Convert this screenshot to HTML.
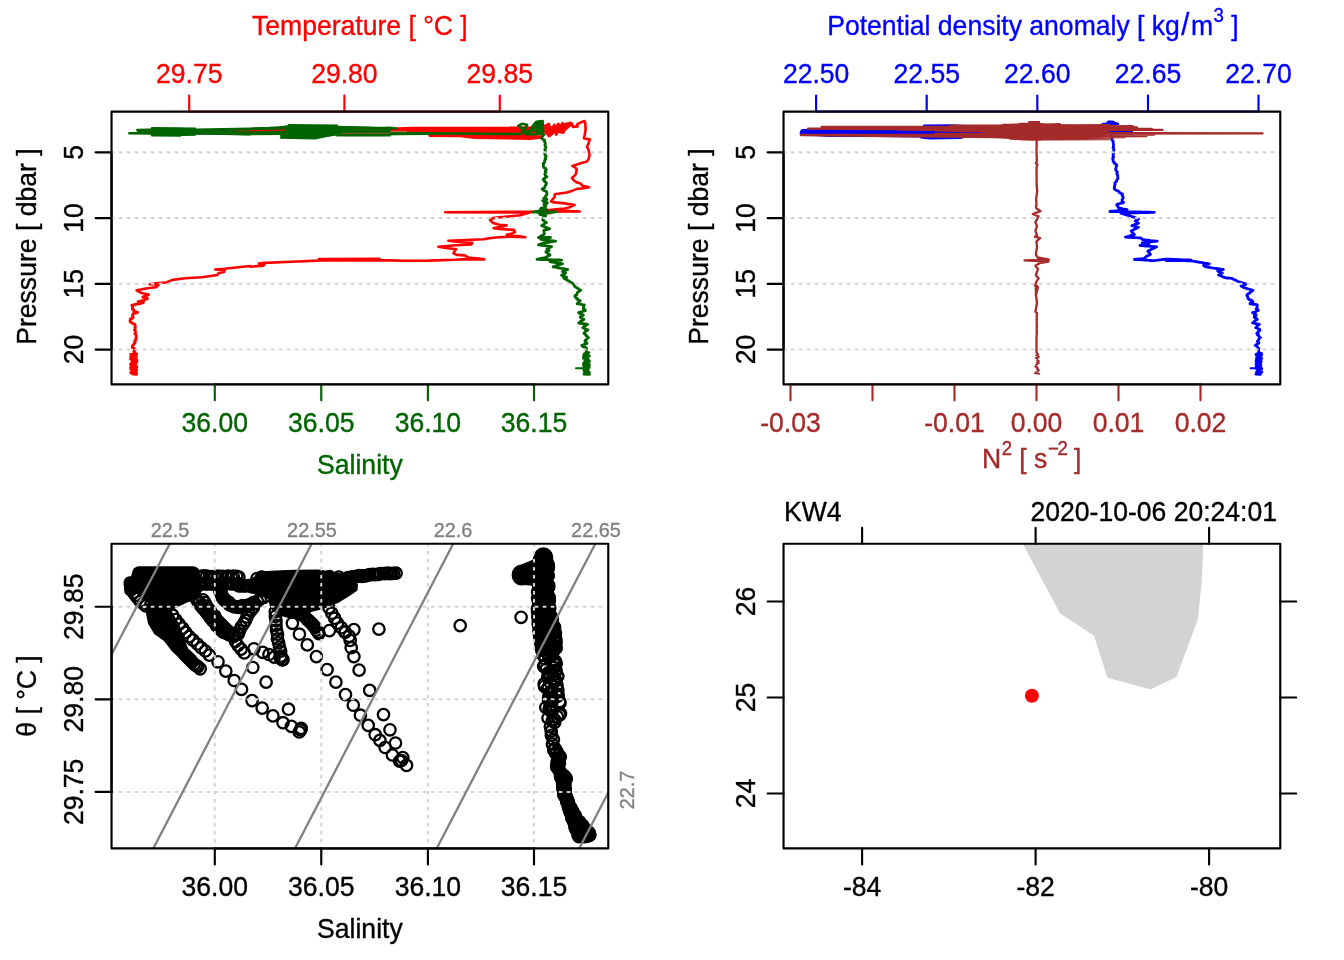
<!DOCTYPE html>
<html><head><meta charset="utf-8"><title>CTD profile</title>
<style>
html,body{margin:0;padding:0;background:#fff;}
body{width:1344px;height:960px;overflow:hidden;}
svg{display:block;font-family:"Liberation Sans",sans-serif;}
</style></head><body>
<svg width="1344" height="960" viewBox="0 0 1344 960">
<rect width="1344" height="960" fill="#fff"/>
<g id="p1">
<line x1="111.55" y1="152.30" x2="111.55" y2="349.55" stroke="#000" stroke-width="2.15" stroke-linecap="round"/>
<line x1="111.55" y1="152.30" x2="95.61" y2="152.30" stroke="#000" stroke-width="2.15" stroke-linecap="round"/>
<text transform="translate(82.87 152.30) rotate(-90) scale(1 1.05)" fill="#000" stroke="#000" stroke-width="0.35" font-size="26.56" text-anchor="middle">5</text>
<line x1="111.55" y1="218.05" x2="95.61" y2="218.05" stroke="#000" stroke-width="2.15" stroke-linecap="round"/>
<text transform="translate(82.87 218.05) rotate(-90) scale(1 1.05)" fill="#000" stroke="#000" stroke-width="0.35" font-size="26.56" text-anchor="middle">10</text>
<line x1="111.55" y1="283.80" x2="95.61" y2="283.80" stroke="#000" stroke-width="2.15" stroke-linecap="round"/>
<text transform="translate(82.87 283.80) rotate(-90) scale(1 1.05)" fill="#000" stroke="#000" stroke-width="0.35" font-size="26.56" text-anchor="middle">15</text>
<line x1="111.55" y1="349.55" x2="95.61" y2="349.55" stroke="#000" stroke-width="2.15" stroke-linecap="round"/>
<text transform="translate(82.87 349.55) rotate(-90) scale(1 1.05)" fill="#000" stroke="#000" stroke-width="0.35" font-size="26.56" text-anchor="middle">20</text>
<line x1="189.20" y1="111.55" x2="499.80" y2="111.55" stroke="#FF0000" stroke-width="1.9" stroke-linecap="round"/>
<line x1="189.20" y1="111.55" x2="189.20" y2="95.61" stroke="#FF0000" stroke-width="2.15" stroke-linecap="round"/>
<text transform="translate(189.20 82.87) scale(1 1.05)" fill="#FF0000" stroke="#FF0000" stroke-width="0.35" font-size="26.56" text-anchor="middle">29.75</text>
<line x1="344.40" y1="111.55" x2="344.40" y2="95.61" stroke="#FF0000" stroke-width="2.15" stroke-linecap="round"/>
<text transform="translate(344.40 82.87) scale(1 1.05)" fill="#FF0000" stroke="#FF0000" stroke-width="0.35" font-size="26.56" text-anchor="middle">29.80</text>
<line x1="499.80" y1="111.55" x2="499.80" y2="95.61" stroke="#FF0000" stroke-width="2.15" stroke-linecap="round"/>
<text transform="translate(499.80 82.87) scale(1 1.05)" fill="#FF0000" stroke="#FF0000" stroke-width="0.35" font-size="26.56" text-anchor="middle">29.85</text>
<line x1="214.80" y1="384.38" x2="534.00" y2="384.38" stroke="#006400" stroke-width="1.9" stroke-linecap="round"/>
<line x1="214.80" y1="384.38" x2="214.80" y2="400.32" stroke="#006400" stroke-width="2.15" stroke-linecap="round"/>
<text transform="translate(214.80 432.19) scale(1 1.05)" fill="#006400" stroke="#006400" stroke-width="0.35" font-size="26.56" text-anchor="middle">36.00</text>
<line x1="321.25" y1="384.38" x2="321.25" y2="400.32" stroke="#006400" stroke-width="2.15" stroke-linecap="round"/>
<text transform="translate(321.25 432.19) scale(1 1.05)" fill="#006400" stroke="#006400" stroke-width="0.35" font-size="26.56" text-anchor="middle">36.05</text>
<line x1="427.90" y1="384.38" x2="427.90" y2="400.32" stroke="#006400" stroke-width="2.15" stroke-linecap="round"/>
<text transform="translate(427.90 432.19) scale(1 1.05)" fill="#006400" stroke="#006400" stroke-width="0.35" font-size="26.56" text-anchor="middle">36.10</text>
<line x1="534.00" y1="384.38" x2="534.00" y2="400.32" stroke="#006400" stroke-width="2.15" stroke-linecap="round"/>
<text transform="translate(534.00 432.19) scale(1 1.05)" fill="#006400" stroke="#006400" stroke-width="0.35" font-size="26.56" text-anchor="middle">36.15</text>
<polyline points="235.0,131.0 300.0,130.5 340.0,130.0 412.0,129.5 235.0,131.5 390.0,133.4 520.0,133.5 300.0,132.0 412.0,128.0 560.0,127.6 412.0,129.0 552.0,129.2 410.0,130.2 556.0,130.6 408.0,131.4 552.0,131.8 410.0,132.6 548.0,133.0 430.0,134.0 545.0,134.2 429.6,135.6 460.0,136.0 475.0,137.6 530.0,138.6 541.0,137.4 500.0,136.4 470.0,135.6 493.0,135.4 510.0,135.2 540.0,136.2" fill="none" stroke="#FF0000" stroke-width="2.6" stroke-linejoin="round" stroke-linecap="round"/>
<polyline points="544.8,125.8 549.0,123.8 550.0,134.2 554.2,124.8 552.1,133.1 558.3,123.8 556.2,134.7 562.5,123.2 561.5,132.6 566.7,124.3 562.5,129.0 570.8,122.7 558.3,125.8 571.9,123.8 564.6,127.4 563.5,132.6 556.2,131.0 549.0,136.2 545.8,131.0 554.2,129.5 564.6,130.0 571.9,123.8" fill="none" stroke="#FF0000" stroke-width="2.6" stroke-linejoin="round" stroke-linecap="round"/>
<polyline points="148.5,294.9 147.2,295.2 146.7,295.6 145.5,295.9 144.9,296.3 143.9,296.6 142.8,297.0 143.4,297.4 144.5,297.8 146.8,298.2 147.5,298.5 146.1,299.1 145.0,299.6 144.4,300.1 144.0,300.4 142.3,300.6 141.7,300.9 140.2,301.1 139.4,301.4 138.1,301.7 138.7,301.9 140.4,302.1 141.8,302.3 142.3,302.5 143.3,302.7 142.6,302.9 141.5,303.2 139.6,303.4 139.5,303.7 138.3,303.9 136.8,304.1 135.4,304.4 135.5,304.6 133.9,304.8 133.2,305.1 131.9,305.3 132.6,306.5 132.5,307.7 132.4,309.0 133.7,309.8 133.6,310.7 134.5,311.6 135.9,311.8 136.5,312.0 137.6,312.3 137.2,312.6 136.1,313.0 133.9,313.3 133.4,313.6 132.7,314.8 132.5,316.0 133.3,317.2 132.4,318.3 131.3,318.6 130.3,318.9 130.5,319.9 130.0,320.9 130.3,322.0 131.3,322.5 132.0,323.0 132.9,323.5 134.2,324.1 135.0,324.6 135.0,325.6 135.4,326.7 134.9,327.7 135.2,328.8 134.5,329.8 135.2,330.8 135.6,331.9 135.4,332.9 134.9,334.0 136.1,335.0 136.5,336.0 136.0,337.1 136.3,338.1 135.6,339.2 135.6,340.2 134.6,341.2 135.2,342.3 134.5,343.3 133.9,344.4 132.8,345.4 132.4,346.5 132.5,347.5 134.3,348.5 134.5,349.6 135.1,350.6 133.7,351.7 134.2,352.7" fill="none" stroke="#FF0000" stroke-width="2.9" stroke-linejoin="round" stroke-linecap="round"/>
<polyline points="571.9,123.8 572.9,126.9 577.6,126.4 577.1,124.3 581.2,122.2 584.4,121.1 585.2,122.7 585.6,129.0 584.9,134.2 583.9,138.3 586.5,138.9 589.8,139.4 588.5,143.5 587.0,146.7 588.5,149.8 589.6,155.0 588.5,159.2 586.5,161.8 582.3,162.8 577.1,164.4 572.4,165.9 575.2,167.5 576.7,169.6 576.0,173.8 574.5,175.8 571.9,177.9 574.0,180.5 577.1,182.6 580.7,183.6 582.3,185.7 589.1,187.3 583.3,188.3 577.1,188.9 571.9,190.9 566.7,192.5 554.7,194.3 554.7,196.7 551.0,201.4 554.2,202.4 564.6,203.4 574.5,205.0 574.5,204.9 568.8,207.5 564.6,208.5 556.2,209.4 549.0,210.1 579.7,211.5 531.2,211.7 530.0,211.7 445.2,212.3 530.0,212.5 525.4,213.8 520.2,215.3 504.6,216.9 498.3,217.4 493.1,218.1 490.0,220.0 491.6,221.6 493.1,223.1 499.4,224.7 506.7,225.4 500.4,226.8 493.6,228.3 499.4,228.9 514.0,229.9 515.0,232.0 511.9,233.5 506.7,234.8 518.1,236.1 525.4,237.3 509.8,236.7 498.3,237.2 489.0,238.2 483.8,239.3 448.3,240.8 458.8,241.9 472.3,242.7 471.2,244.5 452.5,245.5 438.4,246.8 447.3,248.1 456.1,249.2 454.1,251.8 453.5,253.3 456.7,254.9 465.0,255.4 468.1,257.5 484.3,259.4 465.0,259.1 454.6,259.8 428.5,260.6 403.5,260.8 390.0,260.4 390.0,260.4 380.2,260.3 379.7,258.8 318.8,259.0 351.0,259.2 358.3,260.4 380.2,260.2 318.8,260.4 317.7,260.6 291.7,261.7 264.6,262.9 258.9,263.5 264.6,264.6 263.5,265.6 250.0,266.7 250.0,266.0 224.6,268.8 215.2,269.5 224.6,270.5 224.1,272.1 218.3,273.3 217.3,275.0 201.7,277.3 185.0,278.3 172.5,279.9 166.2,282.5 155.8,283.3 149.6,284.3 159.0,284.8 155.8,287.2 147.5,288.2 136.6,290.3 141.2,292.9 148.5,294.5" fill="none" stroke="#FF0000" stroke-width="2.6" stroke-linejoin="round" stroke-linecap="round"/>
<polyline points="134.6,353.0 135.4,353.2 135.8,353.5 136.8,353.7 135.4,354.0 136.7,354.2 130.6,354.4 133.6,354.7 136.8,354.9 134.8,355.2 136.5,355.4 131.2,355.6 133.6,355.9 132.1,356.1 134.1,356.4 134.3,356.6 130.5,356.8 131.9,357.1 132.3,357.3 136.6,357.6 135.6,357.8 131.5,358.0 135.8,358.3 131.3,358.5 134.6,358.8 131.3,359.0 130.4,359.3 136.3,359.5 131.8,359.7 131.9,360.0 137.1,360.2 136.3,360.5 132.4,360.7 136.9,360.9 134.1,361.2 135.0,361.4 131.8,361.7 136.8,361.9 135.1,362.1 137.0,362.4 136.5,362.6 132.4,362.9 132.9,363.1 131.5,363.3 131.4,363.6 130.8,363.8 132.4,364.1 134.5,364.3 130.4,364.5 135.0,364.8 132.7,365.0 132.5,365.3 136.0,365.5 133.7,365.7 132.5,366.0 133.7,366.2 135.2,366.5 130.8,366.7 137.0,366.9 130.6,367.2 135.5,367.4 136.1,367.7 130.5,367.9 135.8,368.1 132.9,368.4 134.3,368.6 130.5,368.9 130.7,369.1 131.6,369.4 136.9,369.6 131.7,369.8 135.5,370.1 136.7,370.3 136.8,370.6 132.7,370.8 132.8,371.0 134.0,371.3 135.7,371.5 131.1,371.8 135.5,372.0 135.8,372.2 136.2,372.5 130.6,372.7 136.8,373.0 131.0,373.2 132.7,373.4 134.6,373.7 136.6,373.9 132.7,374.2 136.7,374.4" fill="none" stroke="#FF0000" stroke-width="2.6" stroke-linejoin="round" stroke-linecap="round"/>
<ellipse cx="133.8" cy="364" rx="2.9" ry="10" fill="#FF0000"/>
<polyline points="129.3,133.3 152.0,133.0 137.3,130.0 160.0,129.4 195.0,128.6 152.0,128.2 180.0,135.6 152.0,135.2 195.0,134.6 152.0,131.6 196.0,131.0 235.0,131.0 196.0,133.2 250.0,134.2 196.0,129.6 250.0,128.6 280.0,128.0 337.0,126.6 289.0,125.2 337.0,125.8 281.0,137.6 315.0,138.4 337.0,133.6 282.0,135.4 337.0,131.0 281.0,128.6 337.0,128.2 283.0,131.4 281.0,133.4 250.0,130.5 337.0,130.0 390.0,127.6 396.0,128.4 337.0,127.2 390.0,130.0 337.0,132.4 342.0,134.8 400.0,134.0 450.0,133.6 520.0,134.0 400.0,133.0 360.0,132.6 390.0,135.4 337.0,135.2" fill="none" stroke="#006400" stroke-width="2.4" stroke-linejoin="round" stroke-linecap="round"/>
<path d="M151.7,128.6 L160,128 L176,127.7 L195,128.3 L196,135 L181,136 L160,135.6 L152,134.6 Z" fill="#006400"/>
<path d="M196,129.4 L250,127.9 L280,126.2 L289,124.9 L337,125.8 L390,127.2 L390,135.2 L337,135.6 L316,138.2 L300,138.8 L281,137.6 L280,135 L250,135.2 L196,134.6 Z" fill="#006400"/>
<path d="M137.3,129.6 L152,129 L152,134.6 L129.3,133.9 L129.3,132.7 L137.3,132.4 Z" fill="#006400"/>
<polyline points="235.0,131.0 270.0,131.0 285.0,130.0" fill="none" stroke="#8B3A10" stroke-width="1" stroke-linejoin="round" stroke-linecap="round"/>
<polyline points="250.0,130.6 285.0,130.0" fill="none" stroke="#FF0000" stroke-width="0.8" stroke-linejoin="round" stroke-linecap="round"/>
<polyline points="342.0,133.4 390.0,133.2" fill="none" stroke="#8B5A20" stroke-width="1" stroke-linejoin="round" stroke-linecap="round"/>
<polyline points="518.2,125.8 521.9,123.8 527.1,124.8 525.0,129.0 520.8,127.4 524.0,132.6 529.2,133.6 531.2,129.0 534.4,123.8 536.5,121.7 542.7,121.1 534.4,125.8 541.7,123.8 535.9,131.0 542.7,130.0 536.5,134.2 527.1,134.2 521.9,132.1 531.2,131.0 539.6,126.9 542.7,121.7 543.2,135.2" fill="none" stroke="#006400" stroke-width="2.6" stroke-linejoin="round" stroke-linecap="round"/>
<path d="M534.4,123.2 L537.5,120.8 L543.2,120.8 L543.8,135.2 L535.4,134.7 Z" fill="#006400"/>
<polyline points="543.2,135.2 542.2,136.8 541.7,138.3 542.1,139.0 544.0,139.7 544.8,140.4 544.3,141.7 545.3,142.9 545.2,144.2 544.9,145.4 545.8,146.7 545.7,148.0 544.8,149.3 545.3,150.6 545.3,151.9 544.7,153.1 544.8,154.3 545.5,155.5 546.2,156.7 545.1,158.0 545.8,159.2 544.7,160.2 544.7,161.2 544.6,162.3 543.2,163.3 543.5,164.7 543.4,166.1 543.8,167.5 545.8,168.5 546.4,169.6 545.1,171.0 545.9,172.4 544.8,173.8 545.1,174.8 545.6,175.8 546.9,176.9 545.0,177.7 544.1,178.6 543.2,179.5 544.5,180.4 544.3,181.3 545.7,182.2 546.4,183.1 546.1,184.5 545.1,185.9 544.8,187.3 543.6,188.1 542.2,188.9 542.5,189.5 543.6,190.2 544.8,190.8 546.4,191.5 546.9,193.0 546.9,194.6 546.1,195.6 545.2,196.7 544.8,197.7 546.0,198.5 546.9,199.3 545.4,199.8 543.8,200.3 542.7,200.8 544.4,201.4 545.4,201.9 545.8,202.4 547.4,202.9 546.2,204.0 544.8,205.0 543.8,198.1 545.1,200.2 546.9,202.3 543.8,204.4 545.8,206.5 543.5,207.5 540.6,208.5 542.5,208.9 544.9,209.2 546.9,209.6 544.5,210.0 542.6,210.3 540.9,210.7 538.4,211.1 536.5,211.4 534.4,211.8 532.3,212.2 534.4,212.2 536.6,212.1 538.5,212.1 541.0,212.1 542.7,212.0 544.9,212.0 546.9,212.0 549.2,212.0 551.4,211.9 553.8,211.9 555.7,211.9 553.6,212.2 551.5,212.5 549.5,212.8 548.0,213.1 545.4,213.4 543.7,213.7 541.5,214.0 539.6,214.3 541.8,214.8 543.7,215.3 545.8,215.8 543.8,217.4 542.7,220.0 544.6,221.3 546.4,222.6 544.0,224.2 541.7,225.7 543.7,226.5 545.8,227.3 547.6,228.1 549.5,228.9 546.4,229.6 543.8,230.4 544.3,234.1 542.1,235.2 540.7,236.4 538.5,237.5 540.9,237.5 543.1,237.5 546.0,237.5 548.2,237.5 550.5,237.5 548.7,237.9 546.8,238.2 544.5,238.6 542.5,238.9 540.6,239.3 543.0,239.5 544.7,239.8 547.3,240.1 549.0,240.3 551.5,240.6 553.7,240.9 555.7,241.1 554.0,241.4 551.9,241.7 549.7,242.0 547.6,242.3 545.5,242.6 543.8,242.9 541.2,243.9 538.5,244.8 540.7,245.1 542.6,245.4 545.3,245.7 547.2,246.0 549.5,246.3 551.6,246.6 549.1,247.9 546.9,249.2 549.0,250.7 545.8,251.8 547.8,253.3 550.0,254.9 547.6,256.2 545.8,257.5 543.5,258.0 541.3,258.4 539.1,258.9 537.0,259.4 538.9,259.4 541.3,259.5 543.3,259.6 544.9,259.6 547.1,259.7 549.0,259.7 551.4,259.8 553.6,259.9 555.2,259.9 557.5,260.0 559.3,260.0 561.5,260.1 558.9,260.4 557.0,260.7 554.5,261.0 552.1,261.4 550.0,261.7 552.0,262.0 554.0,262.4 556.2,262.7 558.3,263.1 560.4,263.4 562.5,263.8 560.2,264.5 557.7,265.3 555.2,266.1 553.1,266.9 555.0,267.2 557.1,267.6 559.4,268.0 561.4,268.4 563.7,268.7 565.6,269.1 567.7,269.5 565.2,270.5 562.5,271.6 565.6,273.1 563.8,274.2 561.5,275.2 563.8,276.2 566.7,277.3 563.5,277.8 565.1,279.0 567.1,280.1 569.1,281.2 571.1,282.4 572.9,283.5 575.0,286.7 577.1,287.9 578.7,289.1 580.7,290.3 580.2,290.2 579.4,291.0 578.4,291.8 577.3,292.6 577.1,293.3 577.0,294.5 574.9,295.8 575.0,297.0 575.9,297.7 577.4,298.4 576.9,299.1 578.6,299.8 579.5,300.5 580.2,301.1 578.4,302.0 577.9,302.9 577.1,303.8 578.6,303.9 579.4,304.1 581.1,304.3 581.4,304.4 582.7,304.6 584.4,304.8 583.4,306.2 583.7,307.6 583.3,309.0 585.1,309.7 585.4,310.5 584.4,310.9 583.6,311.2 581.8,311.6 581.3,311.9 579.1,312.3 578.6,312.6 579.5,313.3 581.3,313.9 582.5,314.6 583.3,315.2 582.2,315.9 580.6,316.6 580.2,317.3 581.1,318.0 582.2,318.7 583.9,319.4 582.5,320.1 582.3,320.8 580.2,321.6 580.3,322.3 578.6,323.0 580.4,323.2 580.1,323.4 581.8,323.5 583.1,323.7 583.4,323.9 585.2,324.0 587.0,324.2 587.5,324.4 585.9,325.0 585.8,325.7 584.1,326.4 583.9,327.0 582.8,327.7 584.5,328.1 584.4,328.5 585.2,329.0 586.3,329.4 588.0,329.8 587.3,330.5 585.6,331.2 584.9,332.0 584.7,332.7 583.9,333.4 585.5,334.3 585.6,335.1 586.5,335.9 587.8,336.8 588.5,337.6 587.0,338.5 586.8,339.4 585.3,340.3 584.9,341.2 586.1,342.3 587.0,343.3 586.7,343.8 584.2,344.2 583.9,344.6 583.0,345.0 581.8,345.4 582.1,346.0 583.3,346.7 585.4,347.3 586.3,347.9 586.5,348.5 585.9,350.1 586.5,351.7" fill="none" stroke="#006400" stroke-width="2.8" stroke-linejoin="round" stroke-linecap="round"/>
<polyline points="586.1,352.0 586.8,352.3 589.1,352.5 586.2,352.8 586.5,353.0 587.0,353.3 584.4,353.5 586.5,353.8 587.2,354.0 588.3,354.3 583.8,354.5 585.1,354.8 583.8,355.0 588.4,355.3 587.6,355.5 583.5,355.8 589.5,356.0 589.4,356.3 587.4,356.5 587.1,356.8 584.2,357.0 583.3,357.3 586.6,357.5 583.6,357.8 584.4,358.0 584.7,358.3 583.4,358.5 586.2,358.8 586.0,359.0 588.6,359.3 586.5,359.6 587.3,359.8 586.4,360.1 587.4,360.3 586.1,360.6 585.0,360.8 589.6,361.1 589.6,361.3 588.6,361.6 587.7,361.8 585.2,362.1 584.7,362.3 585.0,362.6 583.6,362.8 588.1,363.1 585.8,363.3 588.6,363.6 585.7,363.8 589.3,364.1 588.6,364.3 583.2,364.6 584.5,364.8 589.0,365.1 586.2,365.3 589.5,365.6 585.7,365.8 583.7,366.1 587.2,366.3 588.2,366.6 584.9,366.8 583.8,367.1 585.3,367.4 589.4,367.6 588.1,367.9 584.0,368.1 584.8,368.4 583.8,368.6 583.6,368.9 588.3,369.1 584.3,369.4 586.8,369.6 586.1,369.9 584.4,370.1 587.9,370.4 584.0,370.6 587.3,370.9 583.9,371.1 585.9,371.4 584.6,371.6 584.9,371.9 589.4,372.1 588.3,372.4 585.1,372.6 588.9,372.9 584.5,373.1 585.7,373.4 588.7,373.6 587.3,373.9 583.8,374.1 589.5,374.4" fill="none" stroke="#006400" stroke-width="2.6" stroke-linejoin="round" stroke-linecap="round"/>
<ellipse cx="586.4" cy="363.5" rx="2.8" ry="10" fill="#006400"/>
<polyline points="576.0,368.3 585.0,368.3" fill="none" stroke="#006400" stroke-width="2" stroke-linejoin="round" stroke-linecap="round"/>
<line x1="111.55" y1="152.30" x2="608.26" y2="152.30" stroke="#D3D3D3" stroke-width="2.05" stroke-dasharray="2 6" stroke-linecap="round"/>
<line x1="111.55" y1="218.05" x2="608.26" y2="218.05" stroke="#D3D3D3" stroke-width="2.05" stroke-dasharray="2 6" stroke-linecap="round"/>
<line x1="111.55" y1="283.80" x2="608.26" y2="283.80" stroke="#D3D3D3" stroke-width="2.05" stroke-dasharray="2 6" stroke-linecap="round"/>
<line x1="111.55" y1="349.55" x2="608.26" y2="349.55" stroke="#D3D3D3" stroke-width="2.05" stroke-dasharray="2 6" stroke-linecap="round"/>
<rect x="111.55" y="111.55" width="496.71" height="272.83" fill="none" stroke="#000" stroke-width="2.15" stroke-linejoin="round"/>
<text transform="translate(359.90 35.40) scale(1 1.05)" fill="#FF0000" stroke="#FF0000" stroke-width="0.35" font-size="26.56" text-anchor="middle">Temperature [ °C ]</text>
<text transform="translate(359.90 473.60) scale(1 1.05)" fill="#006400" stroke="#006400" stroke-width="0.35" font-size="26.56" text-anchor="middle">Salinity</text>
<text transform="translate(36.00 246.60) rotate(-90) scale(1 1.05)" fill="#000" stroke="#000" stroke-width="0.35" font-size="26.56" text-anchor="middle">Pressure [ dbar ]</text>
</g>
<g id="p2">
<line x1="783.55" y1="152.30" x2="783.55" y2="349.55" stroke="#000" stroke-width="2.15" stroke-linecap="round"/>
<line x1="783.55" y1="152.30" x2="767.61" y2="152.30" stroke="#000" stroke-width="2.15" stroke-linecap="round"/>
<text transform="translate(754.87 152.30) rotate(-90) scale(1 1.05)" fill="#000" stroke="#000" stroke-width="0.35" font-size="26.56" text-anchor="middle">5</text>
<line x1="783.55" y1="218.05" x2="767.61" y2="218.05" stroke="#000" stroke-width="2.15" stroke-linecap="round"/>
<text transform="translate(754.87 218.05) rotate(-90) scale(1 1.05)" fill="#000" stroke="#000" stroke-width="0.35" font-size="26.56" text-anchor="middle">10</text>
<line x1="783.55" y1="283.80" x2="767.61" y2="283.80" stroke="#000" stroke-width="2.15" stroke-linecap="round"/>
<text transform="translate(754.87 283.80) rotate(-90) scale(1 1.05)" fill="#000" stroke="#000" stroke-width="0.35" font-size="26.56" text-anchor="middle">15</text>
<line x1="783.55" y1="349.55" x2="767.61" y2="349.55" stroke="#000" stroke-width="2.15" stroke-linecap="round"/>
<text transform="translate(754.87 349.55) rotate(-90) scale(1 1.05)" fill="#000" stroke="#000" stroke-width="0.35" font-size="26.56" text-anchor="middle">20</text>
<line x1="816.10" y1="111.55" x2="1258.50" y2="111.55" stroke="#0000FF" stroke-width="1.9" stroke-linecap="round"/>
<line x1="816.10" y1="111.55" x2="816.10" y2="95.61" stroke="#0000FF" stroke-width="2.15" stroke-linecap="round"/>
<text transform="translate(816.10 82.87) scale(1 1.05)" fill="#0000FF" stroke="#0000FF" stroke-width="0.35" font-size="26.56" text-anchor="middle">22.50</text>
<line x1="926.70" y1="111.55" x2="926.70" y2="95.61" stroke="#0000FF" stroke-width="2.15" stroke-linecap="round"/>
<text transform="translate(926.70 82.87) scale(1 1.05)" fill="#0000FF" stroke="#0000FF" stroke-width="0.35" font-size="26.56" text-anchor="middle">22.55</text>
<line x1="1037.30" y1="111.55" x2="1037.30" y2="95.61" stroke="#0000FF" stroke-width="2.15" stroke-linecap="round"/>
<text transform="translate(1037.30 82.87) scale(1 1.05)" fill="#0000FF" stroke="#0000FF" stroke-width="0.35" font-size="26.56" text-anchor="middle">22.60</text>
<line x1="1148.00" y1="111.55" x2="1148.00" y2="95.61" stroke="#0000FF" stroke-width="2.15" stroke-linecap="round"/>
<text transform="translate(1148.00 82.87) scale(1 1.05)" fill="#0000FF" stroke="#0000FF" stroke-width="0.35" font-size="26.56" text-anchor="middle">22.65</text>
<line x1="1258.50" y1="111.55" x2="1258.50" y2="95.61" stroke="#0000FF" stroke-width="2.15" stroke-linecap="round"/>
<text transform="translate(1258.50 82.87) scale(1 1.05)" fill="#0000FF" stroke="#0000FF" stroke-width="0.35" font-size="26.56" text-anchor="middle">22.70</text>
<line x1="790.50" y1="384.38" x2="1200.50" y2="384.38" stroke="#A52A2A" stroke-width="1.9" stroke-linecap="round"/>
<line x1="790.50" y1="384.38" x2="790.50" y2="400.32" stroke="#A52A2A" stroke-width="2.15" stroke-linecap="round"/>
<text transform="translate(790.50 432.19) scale(1 1.05)" fill="#A52A2A" stroke="#A52A2A" stroke-width="0.35" font-size="26.56" text-anchor="middle">-0.03</text>
<line x1="872.50" y1="384.38" x2="872.50" y2="400.32" stroke="#A52A2A" stroke-width="2.15" stroke-linecap="round"/>
<line x1="954.50" y1="384.38" x2="954.50" y2="400.32" stroke="#A52A2A" stroke-width="2.15" stroke-linecap="round"/>
<text transform="translate(954.50 432.19) scale(1 1.05)" fill="#A52A2A" stroke="#A52A2A" stroke-width="0.35" font-size="26.56" text-anchor="middle">-0.01</text>
<line x1="1036.50" y1="384.38" x2="1036.50" y2="400.32" stroke="#A52A2A" stroke-width="2.15" stroke-linecap="round"/>
<text transform="translate(1036.50 432.19) scale(1 1.05)" fill="#A52A2A" stroke="#A52A2A" stroke-width="0.35" font-size="26.56" text-anchor="middle">0.00</text>
<line x1="1118.50" y1="384.38" x2="1118.50" y2="400.32" stroke="#A52A2A" stroke-width="2.15" stroke-linecap="round"/>
<text transform="translate(1118.50 432.19) scale(1 1.05)" fill="#A52A2A" stroke="#A52A2A" stroke-width="0.35" font-size="26.56" text-anchor="middle">0.01</text>
<line x1="1200.50" y1="384.38" x2="1200.50" y2="400.32" stroke="#A52A2A" stroke-width="2.15" stroke-linecap="round"/>
<text transform="translate(1200.50 432.19) scale(1 1.05)" fill="#A52A2A" stroke="#A52A2A" stroke-width="0.35" font-size="26.56" text-anchor="middle">0.02</text>
<polyline points="800.8,133.2 930.0,132.6 803.0,130.2 930.0,130.4 801.0,131.6 985.0,131.6 930.0,133.6 802.0,134.0 830.0,135.7 868.0,135.8 916.0,136.2 968.0,135.8 960.0,137.8 930.0,138.4 921.0,137.2 940.0,135.6 1000.0,134.0 1112.0,132.0 924.0,125.6 951.0,125.5 1000.0,128.0 1112.0,131.5 1084.0,131.5 1132.0,132.2" fill="none" stroke="#0000FF" stroke-width="2.4" stroke-linejoin="round" stroke-linecap="round"/>
<path d="M800.8,129.6 L930,129.8 L930,134.2 L800.8,134.4 Z" fill="#0000FF"/>
<path d="M1102.7,124.6 L1106,122.6 L1108,120.8 L1113,120.6 L1118.3,123.4 L1118,125 Z" fill="#0000FF"/>
<polyline points="1102.7,124.0 1118.0,124.0 1109.0,121.6 1112.0,138.0" fill="none" stroke="#0000FF" stroke-width="2.4" stroke-linejoin="round" stroke-linecap="round"/>
<polyline points="1112.1,138.3 1111.8,139.7 1113.1,141.1 1113.1,142.5 1113.5,143.9 1113.4,145.3 1113.6,146.7 1113.0,148.0 1113.9,149.3 1113.8,150.6 1113.1,151.9 1113.3,153.2 1113.4,154.5 1113.0,155.8 1113.6,157.1 1112.6,158.5 1113.1,159.9 1113.1,161.2 1114.2,162.3 1114.2,163.3 1116.4,164.4 1116.8,165.4 1116.2,166.7 1116.0,168.0 1115.6,169.3 1116.2,170.6 1117.4,172.2 1116.8,173.8 1117.7,175.3 1117.8,176.9 1118.0,178.4 1116.8,180.0 1116.5,181.4 1114.9,182.8 1115.2,184.2 1114.6,185.6 1114.5,186.9 1114.2,188.3 1114.8,189.4 1116.8,190.4 1118.9,191.5 1119.4,192.5 1120.7,193.3 1122.5,194.1 1122.1,195.4 1123.0,196.7 1123.1,198.2 1122.0,199.8 1122.1,201.1 1123.5,202.4 1123.0,202.8 1120.7,203.2 1119.6,203.6 1117.8,204.1 1116.8,204.5 1116.7,204.9 1118.8,208.0 1121.1,208.4 1122.7,208.8 1124.7,209.2 1127.1,209.6 1125.2,209.8 1122.6,210.1 1120.4,210.3 1118.6,210.5 1116.2,210.8 1114.4,211.0 1111.9,211.2 1109.9,211.5 1112.2,211.5 1113.8,211.5 1116.0,211.6 1118.2,211.6 1120.1,211.6 1122.2,211.7 1124.1,211.7 1125.7,211.8 1128.2,211.8 1130.1,211.8 1131.9,211.9 1133.9,211.9 1136.3,212.0 1138.1,212.0 1140.3,212.0 1142.3,212.1 1144.4,212.1 1146.2,212.1 1148.2,212.2 1150.2,212.2 1152.0,212.3 1154.2,212.3 1152.4,212.4 1149.9,212.4 1148.1,212.5 1146.1,212.5 1143.8,212.6 1141.5,212.6 1139.8,212.7 1137.6,212.8 1135.2,212.8 1133.1,212.9 1131.3,212.9 1128.9,213.0 1127.3,213.1 1125.0,213.1 1122.9,213.2 1120.8,213.2 1123.2,213.9 1125.8,214.6 1128.1,215.3 1130.5,216.0 1132.2,216.7 1134.4,217.4 1136.4,218.2 1138.5,219.0 1135.4,221.0 1138.5,223.1 1136.3,224.0 1133.9,224.9 1131.8,225.7 1134.1,226.2 1136.3,226.8 1138.5,227.3 1136.7,228.2 1135.0,229.1 1133.1,230.0 1131.2,230.9 1132.6,232.8 1134.4,234.6 1132.5,235.2 1129.9,235.9 1127.7,236.5 1125.5,237.2 1127.6,237.3 1130.1,237.4 1132.3,237.5 1134.2,237.6 1136.2,237.7 1138.2,237.8 1140.6,237.9 1143.1,239.8 1145.4,240.0 1147.4,240.2 1149.4,240.4 1150.9,240.6 1153.2,240.8 1155.1,241.0 1157.2,241.1 1155.0,241.4 1152.7,241.7 1150.5,241.9 1148.5,242.2 1146.2,242.4 1144.2,242.7 1142.1,242.9 1144.1,243.3 1146.3,243.6 1148.9,244.0 1146.8,244.3 1144.4,244.7 1142.2,245.1 1140.0,245.5 1142.2,245.7 1144.1,245.8 1146.0,246.0 1148.5,246.1 1150.5,246.3 1152.6,246.5 1154.7,246.6 1156.7,246.8 1154.3,248.0 1151.5,249.2 1149.6,250.2 1147.8,251.2 1149.3,252.8 1150.4,254.4 1148.3,255.4 1146.2,256.5 1144.2,258.5 1141.8,258.8 1139.4,259.0 1136.7,259.2 1134.4,259.4 1136.3,259.5 1138.6,259.7 1140.9,259.8 1142.9,259.9 1145.0,260.1 1147.2,260.2 1149.1,260.3 1151.2,260.5 1153.5,260.6 1155.5,260.4 1157.9,260.1 1159.6,259.8 1161.6,259.6 1163.7,259.3 1166.0,259.1 1167.8,259.1 1170.1,259.2 1172.3,259.3 1174.6,259.4 1176.4,259.5 1178.5,259.6 1180.5,259.7 1182.6,259.8 1185.0,259.8 1186.9,259.9 1188.8,260.0 1191.0,260.1 1188.7,260.1 1187.0,260.2 1184.9,260.2 1182.9,260.2 1180.5,260.2 1178.6,260.3 1176.7,260.3 1174.4,260.3 1172.6,260.3 1170.0,260.4 1168.4,260.4 1166.0,260.4 1167.9,260.5 1170.2,260.5 1172.0,260.5 1174.6,260.6 1176.6,260.6 1178.8,260.6 1180.8,260.7 1183.0,260.7 1184.8,260.7 1187.2,260.8 1189.1,260.8 1191.0,260.8 1193.2,261.2 1195.9,261.6 1197.8,262.0 1200.0,262.3 1202.5,262.7 1204.5,263.1 1207.0,263.4 1209.3,263.8 1206.2,264.5 1203.5,265.3 1205.6,266.9 1208.1,267.2 1210.3,267.5 1212.1,267.9 1214.2,268.2 1216.7,268.5 1218.7,268.8 1221.1,269.2 1223.3,269.5 1220.7,270.3 1217.6,271.0 1219.8,272.1 1222.3,273.1 1220.4,274.1 1218.6,275.0 1221.1,275.9 1223.1,276.9 1225.4,277.8 1227.4,278.0 1229.8,278.2 1231.7,278.3 1233.9,279.4 1236.1,280.4 1237.9,281.5 1240.1,282.1 1242.0,282.8 1244.3,283.4 1246.2,284.1 1243.8,285.1 1241.0,286.1 1244.2,287.7 1246.5,288.4 1248.4,289.0 1250.7,289.7 1253.0,290.3 1251.1,291.7 1249.4,293.1 1247.3,294.5 1246.9,295.4 1247.7,297.0 1247.9,298.5 1249.5,299.2 1249.5,299.8 1251.8,300.4 1251.6,301.0 1253.1,301.7 1252.4,302.4 1250.4,303.1 1250.0,303.8 1251.6,303.9 1251.9,304.1 1254.0,304.3 1255.2,304.4 1256.5,304.6 1257.3,304.8 1256.9,306.2 1257.2,307.6 1256.2,309.0 1258.1,309.7 1258.3,310.5 1256.6,310.9 1256.1,311.4 1255.6,311.8 1254.1,312.2 1252.6,312.6 1253.4,313.3 1254.1,313.9 1256.1,314.6 1256.2,315.2 1254.5,316.2 1254.2,317.3 1255.6,318.0 1256.8,318.7 1257.3,319.4 1255.8,320.1 1255.1,320.8 1254.2,321.6 1253.6,322.3 1252.6,323.0 1253.5,323.2 1255.5,323.5 1256.7,323.7 1256.8,323.9 1258.9,324.1 1259.4,324.4 1257.8,325.2 1256.9,326.0 1256.9,326.9 1255.7,327.7 1257.2,328.2 1258.3,328.8 1259.6,329.3 1259.9,329.8 1259.7,330.7 1258.0,331.6 1257.9,332.5 1256.8,333.4 1258.2,334.3 1257.6,335.1 1258.9,335.9 1259.1,336.8 1260.4,337.6 1259.1,338.5 1258.8,339.4 1258.3,340.3 1257.3,341.2 1258.8,342.3 1258.9,343.3 1257.0,344.0 1256.4,344.7 1255.2,345.4 1256.9,346.2 1257.5,347.0 1258.0,347.8 1258.9,348.5 1258.4,350.1 1258.9,351.7" fill="none" stroke="#0000FF" stroke-width="2.8" stroke-linejoin="round" stroke-linecap="round"/>
<polyline points="1258.1,353.0 1261.7,353.2 1261.2,353.5 1257.0,353.7 1261.4,354.0 1259.8,354.2 1255.9,354.4 1261.9,354.7 1257.3,354.9 1257.6,355.2 1258.4,355.4 1259.5,355.6 1256.4,355.9 1260.1,356.1 1261.1,356.4 1259.0,356.6 1260.8,356.8 1259.7,357.1 1261.0,357.3 1256.8,357.6 1258.0,357.8 1258.7,358.0 1256.3,358.3 1262.0,358.5 1259.8,358.8 1256.2,359.0 1259.4,359.3 1258.3,359.5 1256.9,359.7 1256.7,360.0 1258.6,360.2 1256.1,360.5 1259.3,360.7 1259.0,360.9 1256.4,361.2 1261.4,361.4 1255.9,361.7 1256.7,361.9 1261.0,362.1 1257.1,362.4 1258.4,362.6 1259.3,362.9 1258.5,363.1 1258.9,363.3 1258.9,363.6 1258.8,363.8 1256.0,364.1 1261.0,364.3 1257.5,364.5 1255.9,364.8 1258.3,365.0 1261.0,365.3 1259.8,365.5 1258.6,365.7 1258.8,366.0 1257.0,366.2 1259.7,366.5 1257.9,366.7 1256.0,366.9 1256.5,367.2 1256.2,367.4 1260.1,367.7 1261.4,367.9 1260.6,368.1 1257.0,368.4 1256.6,368.6 1261.9,368.9 1258.1,369.1 1256.7,369.4 1259.4,369.6 1259.7,369.8 1259.2,370.1 1258.6,370.3 1257.6,370.6 1258.9,370.8 1258.6,371.0 1260.1,371.3 1258.6,371.5 1257.9,371.8 1262.1,372.0 1256.3,372.2 1260.6,372.5 1258.4,372.7 1260.9,373.0 1260.3,373.2 1259.3,373.4 1259.6,373.7 1257.1,373.9 1255.7,374.2 1260.5,374.4" fill="none" stroke="#0000FF" stroke-width="2.6" stroke-linejoin="round" stroke-linecap="round"/>
<ellipse cx="1259" cy="364" rx="2.8" ry="10" fill="#0000FF"/>
<polyline points="1250.5,368.3 1257.0,368.3" fill="none" stroke="#0000FF" stroke-width="2" stroke-linejoin="round" stroke-linecap="round"/>
<polyline points="1036.8,124.0 1020.0,124.0 1036.8,124.8 1060.0,124.5 1036.8,124.9 1003.0,124.9 1036.8,125.7 1110.0,125.4 1036.8,125.6 951.0,125.6 1036.8,126.7 1133.0,126.4 1036.8,126.9 821.7,126.9 1036.8,127.7 1137.0,127.4 1036.8,127.7 860.0,127.7 1036.8,129.1 1151.7,128.8 1036.8,128.6 808.1,128.6 1036.8,130.1 1162.6,129.8 1036.8,129.6 900.0,129.6 1036.8,130.9 1100.0,130.6 1036.8,130.6 935.0,130.6 1036.8,131.9 1084.0,131.6 1036.8,131.0 984.0,131.0 1036.8,132.9 1090.0,132.6 1036.8,132.2 990.0,132.2 1036.8,133.7 1262.5,133.4 1036.8,133.0 984.0,133.0 1036.8,135.0 1154.0,134.7 1036.8,134.0 935.0,134.0 1036.8,136.3 1146.5,136.0 1036.8,135.0 800.8,135.0 1036.8,137.5 1125.0,137.2 1036.8,136.0 960.0,136.0 1036.8,138.5 1112.0,138.2 1036.8,136.6 1003.0,136.6 1036.8,139.3 1109.0,139.0 1036.8,137.6 1003.0,137.6 1036.8,138.6 1010.0,138.6 1036.8,139.4 1020.0,139.4" fill="none" stroke="#A52A2A" stroke-width="2.3" stroke-linejoin="round" stroke-linecap="round"/>
<path d="M1003,124.6 L1020,123.4 L1028,123.1 L1028.4,120.9 L1040,120.9 L1040.2,123.1 L1045,123.6 L1060,124.4 L1100,125.4 L1110,131 L1100,138 L1060,139.2 L1045,139.8 L1040,140.6 L1033,140.6 L1020,139.8 L1003,138 L980,134 Z" fill="#A52A2A"/>
<polyline points="1036.7,140.4 1036.5,151.9 1036.9,161.2 1035.8,163.3 1037.5,164.4 1036.5,167.5 1036.7,186.2 1037.2,191.5 1036.1,198.8 1036.5,205.0 1035.9,206.5 1036.5,208.5 1040.6,211.1 1032.8,214.0 1038.5,216.4 1035.4,222.1 1037.0,226.2 1035.4,230.9 1037.0,235.1 1034.9,236.7 1040.1,238.2 1036.5,241.4 1037.0,247.1 1035.9,254.4 1037.5,257.5 1049.0,259.6 1024.5,260.4 1048.4,261.7 1039.6,263.2 1035.4,265.8 1038.0,269.0 1035.9,275.2 1038.5,278.3 1036.5,281.5 1034.9,285.6 1038.0,287.2 1035.9,295.0 1035.9,285.0 1038.0,287.1 1036.7,290.2 1035.9,293.3 1036.1,296.5 1036.6,299.6 1037.0,302.7 1036.3,307.1 1035.4,311.6 1037.0,313.1 1036.8,316.2 1036.7,319.4 1036.7,322.5 1036.9,325.6 1036.6,328.8 1036.8,331.9 1036.7,335.0 1036.4,338.1 1036.6,341.2 1036.5,344.4 1036.5,347.5 1036.5,352.7" fill="none" stroke="#A52A2A" stroke-width="2.3" stroke-linejoin="round" stroke-linecap="round"/>
<polyline points="1037.3,353.0 1037.6,353.7 1038.5,354.4 1035.9,355.2 1037.7,355.9 1038.9,356.6 1039.0,357.3 1035.5,358.1 1037.7,358.8 1037.6,359.5 1037.0,360.2 1039.2,361.0 1037.1,361.7 1036.7,362.4 1039.1,363.1 1037.7,363.9 1036.0,364.6 1036.1,365.3 1037.0,366.0 1034.9,366.8 1037.5,367.5 1038.1,368.2 1036.6,368.9 1038.7,369.7 1039.1,370.4 1037.3,371.1 1037.9,371.8 1035.2,372.6 1034.9,373.3 1039.3,374.0" fill="none" stroke="#A52A2A" stroke-width="1.6" stroke-linejoin="round" stroke-linecap="round"/>
<line x1="783.55" y1="152.30" x2="1280.26" y2="152.30" stroke="#D3D3D3" stroke-width="2.05" stroke-dasharray="2 6" stroke-linecap="round"/>
<line x1="783.55" y1="218.05" x2="1280.26" y2="218.05" stroke="#D3D3D3" stroke-width="2.05" stroke-dasharray="2 6" stroke-linecap="round"/>
<line x1="783.55" y1="283.80" x2="1280.26" y2="283.80" stroke="#D3D3D3" stroke-width="2.05" stroke-dasharray="2 6" stroke-linecap="round"/>
<line x1="783.55" y1="349.55" x2="1280.26" y2="349.55" stroke="#D3D3D3" stroke-width="2.05" stroke-dasharray="2 6" stroke-linecap="round"/>
<rect x="783.55" y="111.55" width="496.71" height="272.83" fill="none" stroke="#000" stroke-width="2.15" stroke-linejoin="round"/>
<text transform="translate(1032.90 35.20) scale(1 1.05)" fill="#0000FF" stroke="#0000FF" stroke-width="0.35" font-size="26.56" text-anchor="middle">Potential density anomaly [ kg<tspan dx="1.5" font-size="29">/</tspan><tspan dx="1.5">m</tspan><tspan font-size="18.6" dy="-12.2" dx="0.5">3</tspan><tspan dy="12.2"> ]</tspan></text>
<text transform="translate(1031.70 467.50) scale(1 1.05)" fill="#A52A2A" stroke="#A52A2A" stroke-width="0.35" font-size="26.56" text-anchor="middle">N<tspan font-size="18.6" dy="-12.2" dx="0.5">2</tspan><tspan dy="12.2"> [ s</tspan><tspan font-size="18.6" dy="-12.2" dx="0.5" letter-spacing="-1.2">−2</tspan><tspan dy="12.2"> ]</tspan></text>
<text transform="translate(708.00 246.60) rotate(-90) scale(1 1.05)" fill="#000" stroke="#000" stroke-width="0.35" font-size="26.56" text-anchor="middle">Pressure [ dbar ]</text>
</g>
<g id="p3">
<path d="M146,604 L146.7,613 L148.75,623.3 L155,633.75 L164.4,640.4 L172.7,651 L178,656 L186,664 L195,662 L192.5,656 L188.3,651 L184.2,640.4 L182,633.75 L178,623.3 L171.7,613 L170,604 Z" fill="#000" stroke="#000" stroke-width="1.5" stroke-linejoin="round"/>
<polyline points="139.0,573.0 193.0,573.0" fill="none" stroke="#000" stroke-width="13.7" stroke-linejoin="round" stroke-linecap="round"/>
<polyline points="130.3,583.0 131.0,588.0" fill="none" stroke="#000" stroke-width="13.7" stroke-linejoin="round" stroke-linecap="round"/>
<path d="M133,570 L196,568 L200,572 L203,590 L196,599 L186,603 L178,607 L168,612 L152,607 L143,598 L134,592 L128,586 Z" fill="#000"/>
<path d="M255.4,577 L258.5,572.5 L276,571.5 L295,570.8 L318,570.4 L349,575.4 L357,584.8 L356.5,590 L349,595.2 L338.75,601.5 L324.2,607.7 L311.7,610.8 L303.3,615 L291.9,618 L281.5,615 L274.2,610.8 L271,606.7 L269,598.3 L258.5,594.2 L250,592 L250,580 Z" fill="#000" stroke="#000" stroke-width="2" stroke-linejoin="round"/>
<polyline points="543.5,557.0 543.3,600.0 545.5,625.0 548.0,645.0" fill="none" stroke="#000" stroke-width="19.5" stroke-linejoin="round" stroke-linecap="round"/>
<polyline points="563.5,780.0 564.4,793.0 567.7,803.0 574.5,819.0 580.0,828.0" fill="none" stroke="#000" stroke-width="13" stroke-linejoin="round" stroke-linecap="round"/>
<ellipse cx="583.8" cy="835" rx="12.6" ry="8.6" fill="#000"/>
<ellipse cx="521.6" cy="575" rx="10" ry="10.6" fill="#000"/>
<polyline points="524.0,571.0 536.0,566.0" fill="none" stroke="#000" stroke-width="14" stroke-linejoin="round" stroke-linecap="round"/>
<polyline points="524.0,579.0 536.0,580.0" fill="none" stroke="#000" stroke-width="12" stroke-linejoin="round" stroke-linecap="round"/>
<g fill="none" stroke="#000" stroke-width="2.3"><circle cx="460.2" cy="625.6" r="5.7"/><circle cx="521.1" cy="617.3" r="5.7"/><circle cx="252.8" cy="667.5" r="5.7"/><circle cx="266.1" cy="682.1" r="5.7"/><circle cx="288.5" cy="709.2" r="5.7"/><circle cx="292.4" cy="623.3" r="5.7"/><circle cx="329.4" cy="630.6" r="5.7"/><circle cx="353.9" cy="629.6" r="5.7"/><circle cx="378.9" cy="629.1" r="5.7"/><circle cx="299.4" cy="634.2" r="5.7"/><circle cx="307.3" cy="644.9" r="5.7"/><circle cx="316.4" cy="656.6" r="5.7"/><circle cx="327.1" cy="669.6" r="5.7"/><circle cx="335.9" cy="682.1" r="5.7"/><circle cx="345.5" cy="694.6" r="5.7"/><circle cx="353.3" cy="705.2" r="5.7"/><circle cx="360.4" cy="715.2" r="5.7"/><circle cx="368.2" cy="725.4" r="5.7"/><circle cx="375.2" cy="734.7" r="5.7"/><circle cx="379.9" cy="740.4" r="5.7"/><circle cx="385.1" cy="747.5" r="5.7"/><circle cx="392.4" cy="755.0" r="5.7"/><circle cx="399.7" cy="761.2" r="5.7"/><circle cx="406.5" cy="765.4" r="5.7"/><circle cx="401.5" cy="760.5" r="5.7"/><circle cx="345.0" cy="632.1" r="5.7"/><circle cx="349.2" cy="636.2" r="5.7"/><circle cx="350.2" cy="640.4" r="5.7"/><circle cx="351.2" cy="647.7" r="5.7"/><circle cx="353.9" cy="656.6" r="5.7"/><circle cx="359.1" cy="670.1" r="5.7"/><circle cx="369.7" cy="690.4" r="5.7"/><circle cx="383.5" cy="714.6" r="5.7"/><circle cx="390.0" cy="729.8" r="5.7"/><circle cx="395.5" cy="743.0" r="5.7"/><circle cx="402.8" cy="757.6" r="5.7"/><circle cx="328.9" cy="607.8" r="5.7"/><circle cx="331.8" cy="613.2" r="5.7"/><circle cx="334.7" cy="618.2" r="5.7"/><circle cx="337.5" cy="623.1" r="5.7"/><circle cx="341.3" cy="627.7" r="5.7"/><circle cx="345.2" cy="632.1" r="5.7"/><circle cx="172.6" cy="615.2" r="5.7"/><circle cx="175.7" cy="619.6" r="5.7"/><circle cx="179.2" cy="624.2" r="5.7"/><circle cx="182.6" cy="628.1" r="5.7"/><circle cx="185.7" cy="632.4" r="5.7"/><circle cx="189.2" cy="636.6" r="5.7"/><circle cx="193.0" cy="640.1" r="5.7"/><circle cx="197.4" cy="644.0" r="5.7"/><circle cx="201.1" cy="647.7" r="5.7"/><circle cx="205.4" cy="651.0" r="5.7"/><circle cx="209.4" cy="655.1" r="5.7"/><circle cx="218.0" cy="661.8" r="5.7"/><circle cx="225.8" cy="671.1" r="5.7"/><circle cx="234.2" cy="680.5" r="5.7"/><circle cx="241.5" cy="689.4" r="5.7"/><circle cx="252.1" cy="700.6" r="5.7"/><circle cx="262.2" cy="708.1" r="5.7"/><circle cx="272.9" cy="715.9" r="5.7"/><circle cx="283.0" cy="722.7" r="5.7"/><circle cx="291.4" cy="726.4" r="5.7"/><circle cx="301.2" cy="728.4" r="5.7"/><circle cx="299.2" cy="732.0" r="5.7"/><circle cx="300.5" cy="730.0" r="5.7"/><circle cx="185.5" cy="655.2" r="5.7"/><circle cx="187.2" cy="656.8" r="5.7"/><circle cx="189.4" cy="658.9" r="5.7"/><circle cx="190.8" cy="660.4" r="5.7"/><circle cx="192.1" cy="662.0" r="5.7"/><circle cx="194.2" cy="664.1" r="5.7"/><circle cx="196.2" cy="665.6" r="5.7"/><circle cx="197.9" cy="666.6" r="5.7"/><circle cx="200.2" cy="668.8" r="5.7"/><circle cx="130.9" cy="590.0" r="5.7"/><circle cx="133.6" cy="592.6" r="5.7"/><circle cx="135.5" cy="595.4" r="5.7"/><circle cx="137.8" cy="598.2" r="5.7"/><circle cx="140.2" cy="601.3" r="5.7"/><circle cx="143.5" cy="603.8" r="5.7"/><circle cx="145.9" cy="605.9" r="5.7"/><circle cx="198.7" cy="576.5" r="5.7"/><circle cx="201.2" cy="576.3" r="5.7"/><circle cx="203.8" cy="575.9" r="5.7"/><circle cx="206.7" cy="576.0" r="5.7"/><circle cx="209.4" cy="576.8" r="5.7"/><circle cx="211.8" cy="576.6" r="5.7"/><circle cx="214.6" cy="576.9" r="5.7"/><circle cx="218.0" cy="576.2" r="5.7"/><circle cx="220.8" cy="576.8" r="5.7"/><circle cx="222.5" cy="576.4" r="5.7"/><circle cx="225.9" cy="577.0" r="5.7"/><circle cx="227.9" cy="576.2" r="5.7"/><circle cx="231.3" cy="577.1" r="5.7"/><circle cx="233.2" cy="576.0" r="5.7"/><circle cx="236.6" cy="576.3" r="5.7"/><circle cx="238.9" cy="577.0" r="5.7"/><circle cx="199.5" cy="583.4" r="5.7"/><circle cx="201.8" cy="584.0" r="5.7"/><circle cx="204.0" cy="583.6" r="5.7"/><circle cx="207.1" cy="584.1" r="5.7"/><circle cx="209.1" cy="583.1" r="5.7"/><circle cx="212.1" cy="584.1" r="5.7"/><circle cx="215.4" cy="583.3" r="5.7"/><circle cx="218.2" cy="583.8" r="5.7"/><circle cx="220.9" cy="584.3" r="5.7"/><circle cx="222.5" cy="584.4" r="5.7"/><circle cx="225.6" cy="583.4" r="5.7"/><circle cx="228.3" cy="583.4" r="5.7"/><circle cx="231.3" cy="584.0" r="5.7"/><circle cx="233.2" cy="583.6" r="5.7"/><circle cx="236.3" cy="584.3" r="5.7"/><circle cx="238.7" cy="583.5" r="5.7"/><circle cx="238.8" cy="585.9" r="5.7"/><circle cx="241.5" cy="585.8" r="5.7"/><circle cx="244.1" cy="585.9" r="5.7"/><circle cx="246.1" cy="585.9" r="5.7"/><circle cx="248.7" cy="585.5" r="5.7"/><circle cx="251.5" cy="586.6" r="5.7"/><circle cx="254.3" cy="586.1" r="5.7"/><circle cx="257.4" cy="586.5" r="5.7"/><circle cx="259.5" cy="585.7" r="5.7"/><circle cx="262.0" cy="585.8" r="5.7"/><circle cx="257.0" cy="578.5" r="5.7"/><circle cx="262.0" cy="577.5" r="5.7"/><circle cx="266.0" cy="578.0" r="5.7"/><circle cx="195.6" cy="597.9" r="5.7"/><circle cx="197.4" cy="600.8" r="5.7"/><circle cx="199.6" cy="602.7" r="5.7"/><circle cx="200.9" cy="606.0" r="5.7"/><circle cx="202.9" cy="608.5" r="5.7"/><circle cx="205.2" cy="610.8" r="5.7"/><circle cx="207.3" cy="613.4" r="5.7"/><circle cx="208.9" cy="615.7" r="5.7"/><circle cx="210.5" cy="618.0" r="5.7"/><circle cx="212.6" cy="620.7" r="5.7"/><circle cx="215.1" cy="622.9" r="5.7"/><circle cx="216.8" cy="625.9" r="5.7"/><circle cx="219.2" cy="627.9" r="5.7"/><circle cx="221.3" cy="630.5" r="5.7"/><circle cx="223.3" cy="632.2" r="5.7"/><circle cx="226.0" cy="633.2" r="5.7"/><circle cx="229.2" cy="634.8" r="5.7"/><circle cx="232.0" cy="635.4" r="5.7"/><circle cx="234.7" cy="634.8" r="5.7"/><circle cx="238.1" cy="634.2" r="5.7"/><circle cx="203.0" cy="599.8" r="5.7"/><circle cx="204.9" cy="602.6" r="5.7"/><circle cx="206.6" cy="606.1" r="5.7"/><circle cx="208.0" cy="608.2" r="5.7"/><circle cx="210.4" cy="610.8" r="5.7"/><circle cx="211.9" cy="614.1" r="5.7"/><circle cx="214.9" cy="616.2" r="5.7"/><circle cx="216.2" cy="619.4" r="5.7"/><circle cx="218.4" cy="621.6" r="5.7"/><circle cx="221.0" cy="624.1" r="5.7"/><circle cx="223.7" cy="626.8" r="5.7"/><circle cx="225.8" cy="629.0" r="5.7"/><circle cx="228.3" cy="631.1" r="5.7"/><circle cx="237.7" cy="634.0" r="5.7"/><circle cx="239.3" cy="630.9" r="5.7"/><circle cx="241.1" cy="627.2" r="5.7"/><circle cx="243.7" cy="623.5" r="5.7"/><circle cx="245.5" cy="620.5" r="5.7"/><circle cx="246.8" cy="617.0" r="5.7"/><circle cx="248.8" cy="613.3" r="5.7"/><circle cx="251.3" cy="610.1" r="5.7"/><circle cx="253.4" cy="607.4" r="5.7"/><circle cx="254.5" cy="603.6" r="5.7"/><circle cx="257.4" cy="601.2" r="5.7"/><circle cx="260.2" cy="598.9" r="5.7"/><circle cx="263.8" cy="597.3" r="5.7"/><circle cx="233.3" cy="636.7" r="5.7"/><circle cx="235.5" cy="641.3" r="5.7"/><circle cx="238.0" cy="645.5" r="5.7"/><circle cx="241.1" cy="649.1" r="5.7"/><circle cx="244.3" cy="652.9" r="5.7"/><circle cx="253.9" cy="648.8" r="5.7"/><circle cx="262.7" cy="652.4" r="5.7"/><circle cx="269.0" cy="654.5" r="5.7"/><circle cx="274.2" cy="657.1" r="5.7"/><circle cx="280.4" cy="658.1" r="5.7"/><circle cx="283.0" cy="659.7" r="5.7"/><circle cx="219.7" cy="589.7" r="5.7"/><circle cx="219.7" cy="590.9" r="5.7"/><circle cx="221.2" cy="592.3" r="5.7"/><circle cx="221.4" cy="594.5" r="5.7"/><circle cx="222.2" cy="595.6" r="5.7"/><circle cx="222.4" cy="597.1" r="5.7"/><circle cx="222.8" cy="598.2" r="5.7"/><circle cx="224.3" cy="600.1" r="5.7"/><circle cx="225.7" cy="600.2" r="5.7"/><circle cx="226.2" cy="601.7" r="5.7"/><circle cx="228.9" cy="602.3" r="5.7"/><circle cx="229.2" cy="604.5" r="5.7"/><circle cx="230.2" cy="605.2" r="5.7"/><circle cx="232.9" cy="605.8" r="5.7"/><circle cx="233.2" cy="606.5" r="5.7"/><circle cx="234.9" cy="606.9" r="5.7"/><circle cx="237.3" cy="607.0" r="5.7"/><circle cx="238.9" cy="607.3" r="5.7"/><circle cx="240.5" cy="606.4" r="5.7"/><circle cx="242.4" cy="606.7" r="5.7"/><circle cx="243.0" cy="605.7" r="5.7"/><circle cx="245.4" cy="606.9" r="5.7"/><circle cx="247.0" cy="606.1" r="5.7"/><circle cx="248.3" cy="605.1" r="5.7"/><circle cx="248.9" cy="605.4" r="5.7"/><circle cx="251.4" cy="604.2" r="5.7"/><circle cx="253.1" cy="603.0" r="5.7"/><circle cx="253.4" cy="602.6" r="5.7"/><circle cx="275.3" cy="611.7" r="5.7"/><circle cx="275.4" cy="616.4" r="5.7"/><circle cx="276.0" cy="620.7" r="5.7"/><circle cx="276.0" cy="625.3" r="5.7"/><circle cx="276.5" cy="630.0" r="5.7"/><circle cx="277.5" cy="634.2" r="5.7"/><circle cx="277.4" cy="638.8" r="5.7"/><circle cx="278.6" cy="642.8" r="5.7"/><circle cx="279.5" cy="647.1" r="5.7"/><circle cx="280.7" cy="651.2" r="5.7"/><circle cx="281.1" cy="656.1" r="5.7"/><circle cx="282.3" cy="659.8" r="5.7"/><circle cx="299.4" cy="612.6" r="5.7"/><circle cx="301.2" cy="614.1" r="5.7"/><circle cx="304.0" cy="615.8" r="5.7"/><circle cx="304.9" cy="617.0" r="5.7"/><circle cx="307.3" cy="619.6" r="5.7"/><circle cx="308.9" cy="620.7" r="5.7"/><circle cx="310.3" cy="622.3" r="5.7"/><circle cx="312.5" cy="624.1" r="5.7"/><circle cx="313.8" cy="626.3" r="5.7"/><circle cx="315.5" cy="627.3" r="5.7"/><circle cx="316.5" cy="630.1" r="5.7"/><circle cx="318.3" cy="632.4" r="5.7"/><circle cx="318.9" cy="633.6" r="5.7"/><circle cx="261.7" cy="577.0" r="5.7"/><circle cx="276.0" cy="577.5" r="5.7"/><circle cx="285.0" cy="577.2" r="5.7"/><circle cx="303.3" cy="577.0" r="5.7"/><circle cx="312.7" cy="576.8" r="5.7"/><circle cx="321.0" cy="576.6" r="5.7"/><circle cx="329.4" cy="576.6" r="5.7"/><circle cx="338.8" cy="577.0" r="5.7"/><circle cx="348.0" cy="577.5" r="5.7"/><circle cx="351.5" cy="577.1" r="5.7"/><circle cx="353.1" cy="576.8" r="5.7"/><circle cx="355.5" cy="577.0" r="5.7"/><circle cx="357.3" cy="576.0" r="5.7"/><circle cx="359.4" cy="575.7" r="5.7"/><circle cx="361.8" cy="576.3" r="5.7"/><circle cx="363.5" cy="575.9" r="5.7"/><circle cx="365.7" cy="575.8" r="5.7"/><circle cx="368.2" cy="575.1" r="5.7"/><circle cx="369.8" cy="574.6" r="5.7"/><circle cx="372.8" cy="574.4" r="5.7"/><circle cx="374.7" cy="574.6" r="5.7"/><circle cx="376.6" cy="574.5" r="5.7"/><circle cx="378.4" cy="574.3" r="5.7"/><circle cx="380.5" cy="573.7" r="5.7"/><circle cx="383.3" cy="573.5" r="5.7"/><circle cx="384.9" cy="573.7" r="5.7"/><circle cx="387.5" cy="573.1" r="5.7"/><circle cx="389.7" cy="573.6" r="5.7"/><circle cx="391.2" cy="573.5" r="5.7"/><circle cx="393.4" cy="573.4" r="5.7"/><circle cx="396.1" cy="573.1" r="5.7"/><circle cx="545.6" cy="556.0" r="5.7"/><circle cx="541.6" cy="556.5" r="5.7"/><circle cx="540.7" cy="557.1" r="5.7"/><circle cx="543.9" cy="557.6" r="5.7"/><circle cx="540.8" cy="558.2" r="5.7"/><circle cx="543.5" cy="558.7" r="5.7"/><circle cx="539.7" cy="559.3" r="5.7"/><circle cx="540.8" cy="559.8" r="5.7"/><circle cx="543.6" cy="560.4" r="5.7"/><circle cx="540.8" cy="560.9" r="5.7"/><circle cx="540.0" cy="561.5" r="5.7"/><circle cx="543.8" cy="562.0" r="5.7"/><circle cx="539.1" cy="561.2" r="5.7"/><circle cx="546.6" cy="562.6" r="5.7"/><circle cx="547.1" cy="563.1" r="5.7"/><circle cx="543.9" cy="563.7" r="5.7"/><circle cx="538.9" cy="564.2" r="5.7"/><circle cx="546.8" cy="564.2" r="5.7"/><circle cx="548.2" cy="564.9" r="5.7"/><circle cx="547.5" cy="564.8" r="5.7"/><circle cx="548.0" cy="565.3" r="5.7"/><circle cx="538.7" cy="565.1" r="5.7"/><circle cx="543.8" cy="565.9" r="5.7"/><circle cx="546.1" cy="566.4" r="5.7"/><circle cx="544.3" cy="567.0" r="5.7"/><circle cx="541.0" cy="567.5" r="5.7"/><circle cx="542.5" cy="568.1" r="5.7"/><circle cx="548.4" cy="567.1" r="5.7"/><circle cx="548.2" cy="568.6" r="5.7"/><circle cx="538.5" cy="569.1" r="5.7"/><circle cx="546.0" cy="569.2" r="5.7"/><circle cx="541.0" cy="569.7" r="5.7"/><circle cx="544.1" cy="570.3" r="5.7"/><circle cx="544.9" cy="570.8" r="5.7"/><circle cx="545.0" cy="571.4" r="5.7"/><circle cx="538.4" cy="570.4" r="5.7"/><circle cx="543.3" cy="571.9" r="5.7"/><circle cx="546.6" cy="572.5" r="5.7"/><circle cx="538.4" cy="573.0" r="5.7"/><circle cx="539.8" cy="573.6" r="5.7"/><circle cx="547.5" cy="574.1" r="5.7"/><circle cx="540.7" cy="574.7" r="5.7"/><circle cx="543.0" cy="575.2" r="5.7"/><circle cx="548.3" cy="575.8" r="5.7"/><circle cx="538.2" cy="575.3" r="5.7"/><circle cx="540.4" cy="576.3" r="5.7"/><circle cx="539.9" cy="576.9" r="5.7"/><circle cx="538.2" cy="577.8" r="5.7"/><circle cx="540.6" cy="577.4" r="5.7"/><circle cx="542.1" cy="578.0" r="5.7"/><circle cx="545.6" cy="578.5" r="5.7"/><circle cx="543.2" cy="579.1" r="5.7"/><circle cx="538.1" cy="579.0" r="5.7"/><circle cx="542.4" cy="579.6" r="5.7"/><circle cx="541.1" cy="580.2" r="5.7"/><circle cx="538.2" cy="580.7" r="5.7"/><circle cx="538.4" cy="581.3" r="5.7"/><circle cx="538.1" cy="581.8" r="5.7"/><circle cx="539.1" cy="582.4" r="5.7"/><circle cx="537.9" cy="583.0" r="5.7"/><circle cx="539.7" cy="582.9" r="5.7"/><circle cx="542.0" cy="583.5" r="5.7"/><circle cx="543.1" cy="584.0" r="5.7"/><circle cx="546.2" cy="584.6" r="5.7"/><circle cx="548.7" cy="585.3" r="5.7"/><circle cx="540.9" cy="585.1" r="5.7"/><circle cx="538.7" cy="585.7" r="5.7"/><circle cx="541.2" cy="586.2" r="5.7"/><circle cx="548.7" cy="587.2" r="5.7"/><circle cx="546.0" cy="586.8" r="5.7"/><circle cx="543.0" cy="587.3" r="5.7"/><circle cx="546.3" cy="587.9" r="5.7"/><circle cx="543.3" cy="588.4" r="5.7"/><circle cx="547.3" cy="589.0" r="5.7"/><circle cx="546.0" cy="589.5" r="5.7"/><circle cx="545.5" cy="590.1" r="5.7"/><circle cx="538.5" cy="590.6" r="5.7"/><circle cx="539.2" cy="591.2" r="5.7"/><circle cx="546.4" cy="591.7" r="5.7"/><circle cx="537.6" cy="591.8" r="5.7"/><circle cx="547.3" cy="592.3" r="5.7"/><circle cx="538.9" cy="592.8" r="5.7"/><circle cx="539.0" cy="593.4" r="5.7"/><circle cx="545.0" cy="593.9" r="5.7"/><circle cx="545.3" cy="594.5" r="5.7"/><circle cx="544.3" cy="595.0" r="5.7"/><circle cx="547.7" cy="595.6" r="5.7"/><circle cx="541.7" cy="596.1" r="5.7"/><circle cx="546.1" cy="596.7" r="5.7"/><circle cx="549.1" cy="597.2" r="5.7"/><circle cx="539.3" cy="597.2" r="5.7"/><circle cx="549.0" cy="597.8" r="5.7"/><circle cx="538.5" cy="598.3" r="5.7"/><circle cx="537.6" cy="598.1" r="5.7"/><circle cx="539.0" cy="598.9" r="5.7"/><circle cx="545.0" cy="599.4" r="5.7"/><circle cx="549.3" cy="599.7" r="5.7"/><circle cx="547.2" cy="600.0" r="5.7"/><circle cx="545.4" cy="600.5" r="5.7"/><circle cx="549.3" cy="600.6" r="5.7"/><circle cx="538.4" cy="601.1" r="5.7"/><circle cx="540.0" cy="601.6" r="5.7"/><circle cx="546.3" cy="602.2" r="5.7"/><circle cx="540.3" cy="602.7" r="5.7"/><circle cx="542.7" cy="603.3" r="5.7"/><circle cx="546.4" cy="603.8" r="5.7"/><circle cx="546.9" cy="604.4" r="5.7"/><circle cx="538.7" cy="604.9" r="5.7"/><circle cx="545.4" cy="605.5" r="5.7"/><circle cx="545.3" cy="606.0" r="5.7"/><circle cx="549.2" cy="606.6" r="5.7"/><circle cx="543.6" cy="607.1" r="5.7"/><circle cx="545.3" cy="607.7" r="5.7"/><circle cx="537.5" cy="608.6" r="5.7"/><circle cx="541.7" cy="608.2" r="5.7"/><circle cx="549.7" cy="608.3" r="5.7"/><circle cx="543.0" cy="608.8" r="5.7"/><circle cx="540.4" cy="609.3" r="5.7"/><circle cx="543.4" cy="609.9" r="5.7"/><circle cx="540.9" cy="610.4" r="5.7"/><circle cx="537.5" cy="611.3" r="5.7"/><circle cx="544.7" cy="611.0" r="5.7"/><circle cx="544.0" cy="611.5" r="5.7"/><circle cx="542.5" cy="612.1" r="5.7"/><circle cx="538.8" cy="612.6" r="5.7"/><circle cx="548.5" cy="613.2" r="5.7"/><circle cx="543.9" cy="613.7" r="5.7"/><circle cx="539.9" cy="614.3" r="5.7"/><circle cx="544.9" cy="614.8" r="5.7"/><circle cx="541.2" cy="615.4" r="5.7"/><circle cx="541.8" cy="615.9" r="5.7"/><circle cx="551.1" cy="616.3" r="5.7"/><circle cx="538.1" cy="616.5" r="5.7"/><circle cx="551.2" cy="617.3" r="5.7"/><circle cx="542.9" cy="617.0" r="5.7"/><circle cx="537.9" cy="616.8" r="5.7"/><circle cx="539.9" cy="617.6" r="5.7"/><circle cx="550.4" cy="618.1" r="5.7"/><circle cx="551.7" cy="618.3" r="5.7"/><circle cx="542.8" cy="618.7" r="5.7"/><circle cx="550.4" cy="619.2" r="5.7"/><circle cx="549.0" cy="619.8" r="5.7"/><circle cx="552.2" cy="619.7" r="5.7"/><circle cx="538.5" cy="620.3" r="5.7"/><circle cx="545.5" cy="620.9" r="5.7"/><circle cx="541.1" cy="621.4" r="5.7"/><circle cx="538.7" cy="622.0" r="5.7"/><circle cx="545.4" cy="622.5" r="5.7"/><circle cx="544.6" cy="623.1" r="5.7"/><circle cx="538.3" cy="622.2" r="5.7"/><circle cx="543.7" cy="623.6" r="5.7"/><circle cx="544.5" cy="624.2" r="5.7"/><circle cx="538.4" cy="624.2" r="5.7"/><circle cx="546.3" cy="624.7" r="5.7"/><circle cx="551.9" cy="625.3" r="5.7"/><circle cx="538.5" cy="624.7" r="5.7"/><circle cx="547.2" cy="625.8" r="5.7"/><circle cx="554.0" cy="626.7" r="5.7"/><circle cx="539.4" cy="626.4" r="5.7"/><circle cx="539.9" cy="626.9" r="5.7"/><circle cx="554.3" cy="627.4" r="5.7"/><circle cx="546.2" cy="627.5" r="5.7"/><circle cx="554.5" cy="627.4" r="5.7"/><circle cx="544.8" cy="628.0" r="5.7"/><circle cx="546.1" cy="628.6" r="5.7"/><circle cx="540.7" cy="629.1" r="5.7"/><circle cx="543.4" cy="629.7" r="5.7"/><circle cx="554.5" cy="630.2" r="5.7"/><circle cx="544.3" cy="630.8" r="5.7"/><circle cx="551.0" cy="631.3" r="5.7"/><circle cx="539.0" cy="630.4" r="5.7"/><circle cx="554.8" cy="631.9" r="5.7"/><circle cx="551.7" cy="632.4" r="5.7"/><circle cx="552.9" cy="633.0" r="5.7"/><circle cx="540.8" cy="633.5" r="5.7"/><circle cx="555.4" cy="633.0" r="5.7"/><circle cx="547.2" cy="634.1" r="5.7"/><circle cx="544.3" cy="634.6" r="5.7"/><circle cx="539.5" cy="634.9" r="5.7"/><circle cx="547.3" cy="635.2" r="5.7"/><circle cx="542.5" cy="635.7" r="5.7"/><circle cx="554.7" cy="636.3" r="5.7"/><circle cx="539.7" cy="636.9" r="5.7"/><circle cx="540.6" cy="636.8" r="5.7"/><circle cx="555.5" cy="637.8" r="5.7"/><circle cx="547.6" cy="637.4" r="5.7"/><circle cx="547.9" cy="637.9" r="5.7"/><circle cx="546.6" cy="638.5" r="5.7"/><circle cx="548.6" cy="639.0" r="5.7"/><circle cx="554.2" cy="639.6" r="5.7"/><circle cx="555.6" cy="639.5" r="5.7"/><circle cx="553.7" cy="640.1" r="5.7"/><circle cx="540.3" cy="641.0" r="5.7"/><circle cx="554.4" cy="640.7" r="5.7"/><circle cx="554.5" cy="641.2" r="5.7"/><circle cx="555.7" cy="642.2" r="5.7"/><circle cx="548.5" cy="641.8" r="5.7"/><circle cx="555.7" cy="641.3" r="5.7"/><circle cx="544.0" cy="642.3" r="5.7"/><circle cx="555.8" cy="641.7" r="5.7"/><circle cx="540.8" cy="642.9" r="5.7"/><circle cx="555.6" cy="643.4" r="5.7"/><circle cx="551.1" cy="644.0" r="5.7"/><circle cx="551.0" cy="644.5" r="5.7"/><circle cx="541.5" cy="645.1" r="5.7"/><circle cx="547.6" cy="645.6" r="5.7"/><circle cx="553.0" cy="646.2" r="5.7"/><circle cx="555.9" cy="646.8" r="5.7"/><circle cx="553.5" cy="646.7" r="5.7"/><circle cx="544.6" cy="647.3" r="5.7"/><circle cx="554.6" cy="647.8" r="5.7"/><circle cx="551.4" cy="648.4" r="5.7"/><circle cx="541.5" cy="647.6" r="5.7"/><circle cx="550.1" cy="648.9" r="5.7"/><circle cx="556.1" cy="648.2" r="5.7"/><circle cx="545.7" cy="649.5" r="5.7"/><circle cx="541.7" cy="650.0" r="5.7"/><circle cx="553.4" cy="650.0" r="5.7"/><circle cx="550.5" cy="651.3" r="5.7"/><circle cx="553.0" cy="652.5" r="5.7"/><circle cx="547.6" cy="653.8" r="5.7"/><circle cx="542.9" cy="655.0" r="5.7"/><circle cx="551.2" cy="656.3" r="5.7"/><circle cx="548.7" cy="657.5" r="5.7"/><circle cx="545.1" cy="658.8" r="5.7"/><circle cx="553.9" cy="660.0" r="5.7"/><circle cx="555.5" cy="661.3" r="5.7"/><circle cx="553.3" cy="662.5" r="5.7"/><circle cx="556.2" cy="663.8" r="5.7"/><circle cx="544.9" cy="665.0" r="5.7"/><circle cx="543.7" cy="666.3" r="5.7"/><circle cx="553.9" cy="667.5" r="5.7"/><circle cx="546.5" cy="668.8" r="5.7"/><circle cx="556.0" cy="670.0" r="5.7"/><circle cx="555.9" cy="671.3" r="5.7"/><circle cx="548.5" cy="672.5" r="5.7"/><circle cx="548.6" cy="673.8" r="5.7"/><circle cx="553.3" cy="675.0" r="5.7"/><circle cx="557.8" cy="676.3" r="5.7"/><circle cx="547.6" cy="677.5" r="5.7"/><circle cx="555.0" cy="678.8" r="5.7"/><circle cx="555.6" cy="680.0" r="5.7"/><circle cx="554.9" cy="681.3" r="5.7"/><circle cx="550.1" cy="682.5" r="5.7"/><circle cx="544.2" cy="683.8" r="5.7"/><circle cx="557.0" cy="685.0" r="5.7"/><circle cx="544.5" cy="686.3" r="5.7"/><circle cx="548.4" cy="687.5" r="5.7"/><circle cx="547.4" cy="688.8" r="5.7"/><circle cx="557.9" cy="690.0" r="5.7"/><circle cx="551.7" cy="691.3" r="5.7"/><circle cx="549.8" cy="692.5" r="5.7"/><circle cx="556.5" cy="693.8" r="5.7"/><circle cx="558.2" cy="695.0" r="5.7"/><circle cx="557.3" cy="696.3" r="5.7"/><circle cx="548.6" cy="697.5" r="5.7"/><circle cx="553.5" cy="698.8" r="5.7"/><circle cx="548.5" cy="700.0" r="5.7"/><circle cx="559.6" cy="701.5" r="5.7"/><circle cx="560.0" cy="703.0" r="5.7"/><circle cx="551.5" cy="704.5" r="5.7"/><circle cx="550.1" cy="706.0" r="5.7"/><circle cx="545.8" cy="707.5" r="5.7"/><circle cx="549.1" cy="709.0" r="5.7"/><circle cx="550.1" cy="710.5" r="5.7"/><circle cx="551.9" cy="712.0" r="5.7"/><circle cx="560.5" cy="713.5" r="5.7"/><circle cx="559.7" cy="715.0" r="5.7"/><circle cx="557.3" cy="716.5" r="5.7"/><circle cx="548.0" cy="718.0" r="5.7"/><circle cx="554.5" cy="719.5" r="5.7"/><circle cx="552.1" cy="721.0" r="5.7"/><circle cx="554.7" cy="722.5" r="5.7"/><circle cx="550.4" cy="726.8" r="5.7"/><circle cx="551.2" cy="731.1" r="5.7"/><circle cx="551.4" cy="735.4" r="5.7"/><circle cx="553.4" cy="739.7" r="5.7"/><circle cx="552.4" cy="744.0" r="5.7"/><circle cx="555.0" cy="748.3" r="5.7"/><circle cx="553.7" cy="750.0" r="5.7"/><circle cx="556.9" cy="751.7" r="5.7"/><circle cx="555.7" cy="753.4" r="5.7"/><circle cx="558.7" cy="755.1" r="5.7"/><circle cx="560.3" cy="756.8" r="5.7"/><circle cx="559.2" cy="758.5" r="5.7"/><circle cx="558.9" cy="760.2" r="5.7"/><circle cx="557.1" cy="761.9" r="5.7"/><circle cx="559.4" cy="763.6" r="5.7"/><circle cx="556.9" cy="765.3" r="5.7"/><circle cx="556.7" cy="767.0" r="5.7"/><circle cx="558.5" cy="768.7" r="5.7"/><circle cx="559.0" cy="770.4" r="5.7"/><circle cx="560.3" cy="772.1" r="5.7"/><circle cx="560.7" cy="773.8" r="5.7"/><circle cx="564.0" cy="775.5" r="5.7"/><circle cx="560.5" cy="776.1" r="5.7"/><circle cx="562.9" cy="776.6" r="5.7"/><circle cx="560.8" cy="777.1" r="5.7"/><circle cx="564.7" cy="777.2" r="5.7"/><circle cx="565.7" cy="777.7" r="5.7"/><circle cx="565.8" cy="778.3" r="5.7"/><circle cx="565.7" cy="778.8" r="5.7"/><circle cx="563.0" cy="779.4" r="5.7"/><circle cx="565.9" cy="779.1" r="5.7"/><circle cx="562.6" cy="779.9" r="5.7"/><circle cx="565.9" cy="779.6" r="5.7"/><circle cx="564.8" cy="780.5" r="5.7"/><circle cx="564.7" cy="781.0" r="5.7"/><circle cx="563.9" cy="781.6" r="5.7"/><circle cx="562.9" cy="782.1" r="5.7"/><circle cx="562.4" cy="781.2" r="5.7"/><circle cx="563.5" cy="782.7" r="5.7"/><circle cx="564.3" cy="783.2" r="5.7"/><circle cx="562.6" cy="782.8" r="5.7"/><circle cx="564.0" cy="783.8" r="5.7"/><circle cx="563.0" cy="784.3" r="5.7"/><circle cx="564.9" cy="784.9" r="5.7"/><circle cx="562.7" cy="785.8" r="5.7"/><circle cx="564.4" cy="785.4" r="5.7"/><circle cx="563.4" cy="786.0" r="5.7"/><circle cx="562.9" cy="786.7" r="5.7"/><circle cx="563.4" cy="786.5" r="5.7"/><circle cx="564.5" cy="787.1" r="5.7"/><circle cx="563.0" cy="786.9" r="5.7"/><circle cx="563.9" cy="787.6" r="5.7"/><circle cx="563.0" cy="788.2" r="5.7"/><circle cx="564.6" cy="788.2" r="5.7"/><circle cx="564.0" cy="788.7" r="5.7"/><circle cx="565.0" cy="789.3" r="5.7"/><circle cx="564.0" cy="789.8" r="5.7"/><circle cx="563.4" cy="790.4" r="5.7"/><circle cx="565.1" cy="790.9" r="5.7"/><circle cx="565.3" cy="790.0" r="5.7"/><circle cx="565.0" cy="791.5" r="5.7"/><circle cx="565.3" cy="791.8" r="5.7"/><circle cx="565.2" cy="792.0" r="5.7"/><circle cx="565.1" cy="792.6" r="5.7"/><circle cx="565.2" cy="791.7" r="5.7"/><circle cx="564.1" cy="793.1" r="5.7"/><circle cx="564.7" cy="793.7" r="5.7"/><circle cx="563.8" cy="794.4" r="5.7"/><circle cx="564.6" cy="794.2" r="5.7"/><circle cx="564.4" cy="794.8" r="5.7"/><circle cx="564.2" cy="795.6" r="5.7"/><circle cx="565.1" cy="795.3" r="5.7"/><circle cx="566.0" cy="795.9" r="5.7"/><circle cx="565.3" cy="796.4" r="5.7"/><circle cx="565.6" cy="797.0" r="5.7"/><circle cx="565.8" cy="797.5" r="5.7"/><circle cx="566.6" cy="798.1" r="5.7"/><circle cx="566.8" cy="798.6" r="5.7"/><circle cx="566.6" cy="799.2" r="5.7"/><circle cx="566.8" cy="799.7" r="5.7"/><circle cx="566.6" cy="800.3" r="5.7"/><circle cx="567.5" cy="799.6" r="5.7"/><circle cx="567.1" cy="800.8" r="5.7"/><circle cx="567.3" cy="801.4" r="5.7"/><circle cx="567.8" cy="801.4" r="5.7"/><circle cx="567.0" cy="801.9" r="5.7"/><circle cx="568.0" cy="802.1" r="5.7"/><circle cx="567.6" cy="802.5" r="5.7"/><circle cx="566.9" cy="801.5" r="5.7"/><circle cx="568.0" cy="803.0" r="5.7"/><circle cx="568.3" cy="802.5" r="5.7"/><circle cx="568.4" cy="803.6" r="5.7"/><circle cx="568.1" cy="804.1" r="5.7"/><circle cx="568.6" cy="804.7" r="5.7"/><circle cx="569.1" cy="805.2" r="5.7"/><circle cx="568.8" cy="805.8" r="5.7"/><circle cx="569.4" cy="806.3" r="5.7"/><circle cx="568.4" cy="806.9" r="5.7"/><circle cx="570.2" cy="807.4" r="5.7"/><circle cx="569.9" cy="808.0" r="5.7"/><circle cx="569.6" cy="808.5" r="5.7"/><circle cx="571.1" cy="808.0" r="5.7"/><circle cx="570.6" cy="809.1" r="5.7"/><circle cx="569.5" cy="809.6" r="5.7"/><circle cx="570.5" cy="810.2" r="5.7"/><circle cx="569.5" cy="810.8" r="5.7"/><circle cx="571.0" cy="810.7" r="5.7"/><circle cx="572.3" cy="811.3" r="5.7"/><circle cx="572.6" cy="811.2" r="5.7"/><circle cx="570.3" cy="811.8" r="5.7"/><circle cx="571.5" cy="812.4" r="5.7"/><circle cx="573.1" cy="812.8" r="5.7"/><circle cx="570.8" cy="812.9" r="5.7"/><circle cx="573.2" cy="813.5" r="5.7"/><circle cx="572.0" cy="814.0" r="5.7"/><circle cx="573.0" cy="814.6" r="5.7"/><circle cx="574.3" cy="815.1" r="5.7"/><circle cx="571.5" cy="815.7" r="5.7"/><circle cx="574.2" cy="816.2" r="5.7"/><circle cx="575.1" cy="815.4" r="5.7"/><circle cx="574.2" cy="816.8" r="5.7"/><circle cx="575.6" cy="817.3" r="5.7"/><circle cx="571.9" cy="818.2" r="5.7"/><circle cx="573.4" cy="817.9" r="5.7"/><circle cx="572.1" cy="816.9" r="5.7"/><circle cx="572.8" cy="818.4" r="5.7"/><circle cx="576.2" cy="819.0" r="5.7"/><circle cx="576.0" cy="819.5" r="5.7"/><circle cx="575.8" cy="820.1" r="5.7"/><circle cx="575.2" cy="820.6" r="5.7"/><circle cx="574.7" cy="821.2" r="5.7"/><circle cx="576.7" cy="821.7" r="5.7"/><circle cx="573.4" cy="821.3" r="5.7"/><circle cx="577.4" cy="822.3" r="5.7"/><circle cx="579.4" cy="821.5" r="5.7"/><circle cx="575.9" cy="822.8" r="5.7"/><circle cx="580.2" cy="823.4" r="5.7"/><circle cx="580.4" cy="824.3" r="5.7"/><circle cx="575.2" cy="823.9" r="5.7"/><circle cx="576.4" cy="824.5" r="5.7"/><circle cx="579.1" cy="825.0" r="5.7"/><circle cx="574.9" cy="825.6" r="5.7"/><circle cx="582.1" cy="826.1" r="5.7"/><circle cx="582.9" cy="825.6" r="5.7"/><circle cx="581.1" cy="826.7" r="5.7"/><circle cx="575.1" cy="827.5" r="5.7"/><circle cx="580.8" cy="827.2" r="5.7"/><circle cx="578.0" cy="827.8" r="5.7"/><circle cx="578.8" cy="828.3" r="5.7"/><circle cx="575.6" cy="827.7" r="5.7"/><circle cx="583.9" cy="828.9" r="5.7"/><circle cx="584.8" cy="829.4" r="5.7"/><circle cx="586.4" cy="830.0" r="5.7"/><circle cx="576.2" cy="829.0" r="5.7"/><circle cx="578.3" cy="830.5" r="5.7"/><circle cx="576.4" cy="830.1" r="5.7"/><circle cx="584.2" cy="831.1" r="5.7"/><circle cx="587.5" cy="831.6" r="5.7"/><circle cx="579.3" cy="832.2" r="5.7"/><circle cx="589.1" cy="832.5" r="5.7"/><circle cx="578.5" cy="832.7" r="5.7"/><circle cx="581.0" cy="833.3" r="5.7"/><circle cx="578.4" cy="833.8" r="5.7"/><circle cx="581.3" cy="834.4" r="5.7"/><circle cx="589.2" cy="834.9" r="5.7"/><circle cx="589.8" cy="834.8" r="5.7"/><circle cx="589.2" cy="835.5" r="5.7"/><circle cx="585.8" cy="836.0" r="5.7"/><circle cx="578.9" cy="836.6" r="5.7"/></g>
<line x1="214.80" y1="543.74" x2="214.80" y2="848.45" stroke="#D3D3D3" stroke-width="2.05" stroke-dasharray="2 6" stroke-linecap="round"/>
<line x1="321.25" y1="543.74" x2="321.25" y2="848.45" stroke="#D3D3D3" stroke-width="2.05" stroke-dasharray="2 6" stroke-linecap="round"/>
<line x1="427.90" y1="543.74" x2="427.90" y2="848.45" stroke="#D3D3D3" stroke-width="2.05" stroke-dasharray="2 6" stroke-linecap="round"/>
<line x1="534.00" y1="543.74" x2="534.00" y2="848.45" stroke="#D3D3D3" stroke-width="2.05" stroke-dasharray="2 6" stroke-linecap="round"/>
<line x1="111.55" y1="791.90" x2="608.26" y2="791.90" stroke="#D3D3D3" stroke-width="2.05" stroke-dasharray="2 6" stroke-linecap="round"/>
<line x1="111.55" y1="699.30" x2="608.26" y2="699.30" stroke="#D3D3D3" stroke-width="2.05" stroke-dasharray="2 6" stroke-linecap="round"/>
<line x1="111.55" y1="606.70" x2="608.26" y2="606.70" stroke="#D3D3D3" stroke-width="2.05" stroke-dasharray="2 6" stroke-linecap="round"/>
<g stroke="#808080" stroke-width="2.3"><line x1="169.8" y1="543.7" x2="111.5" y2="654.5"/><line x1="311.7" y1="543.7" x2="153.3" y2="848.5"/><line x1="453.2" y1="543.7" x2="295.0" y2="848.5"/><line x1="595.3" y1="543.7" x2="436.7" y2="848.5"/><line x1="608.3" y1="792.5" x2="579.2" y2="848.5"/></g>
<line x1="214.80" y1="848.45" x2="534.00" y2="848.45" stroke="#000" stroke-width="1.9" stroke-linecap="round"/>
<line x1="214.80" y1="848.45" x2="214.80" y2="864.39" stroke="#000" stroke-width="2.15" stroke-linecap="round"/>
<text transform="translate(214.80 896.26) scale(1 1.05)" fill="#000" stroke="#000" stroke-width="0.35" font-size="26.56" text-anchor="middle">36.00</text>
<line x1="321.25" y1="848.45" x2="321.25" y2="864.39" stroke="#000" stroke-width="2.15" stroke-linecap="round"/>
<text transform="translate(321.25 896.26) scale(1 1.05)" fill="#000" stroke="#000" stroke-width="0.35" font-size="26.56" text-anchor="middle">36.05</text>
<line x1="427.90" y1="848.45" x2="427.90" y2="864.39" stroke="#000" stroke-width="2.15" stroke-linecap="round"/>
<text transform="translate(427.90 896.26) scale(1 1.05)" fill="#000" stroke="#000" stroke-width="0.35" font-size="26.56" text-anchor="middle">36.10</text>
<line x1="534.00" y1="848.45" x2="534.00" y2="864.39" stroke="#000" stroke-width="2.15" stroke-linecap="round"/>
<text transform="translate(534.00 896.26) scale(1 1.05)" fill="#000" stroke="#000" stroke-width="0.35" font-size="26.56" text-anchor="middle">36.15</text>
<line x1="111.55" y1="791.90" x2="111.55" y2="606.70" stroke="#000" stroke-width="2.15" stroke-linecap="round"/>
<line x1="111.55" y1="791.90" x2="95.61" y2="791.90" stroke="#000" stroke-width="2.15" stroke-linecap="round"/>
<text transform="translate(82.87 791.90) rotate(-90) scale(1 1.05)" fill="#000" stroke="#000" stroke-width="0.35" font-size="26.56" text-anchor="middle">29.75</text>
<line x1="111.55" y1="699.30" x2="95.61" y2="699.30" stroke="#000" stroke-width="2.15" stroke-linecap="round"/>
<text transform="translate(82.87 699.30) rotate(-90) scale(1 1.05)" fill="#000" stroke="#000" stroke-width="0.35" font-size="26.56" text-anchor="middle">29.80</text>
<line x1="111.55" y1="606.70" x2="95.61" y2="606.70" stroke="#000" stroke-width="2.15" stroke-linecap="round"/>
<text transform="translate(82.87 606.70) rotate(-90) scale(1 1.05)" fill="#000" stroke="#000" stroke-width="0.35" font-size="26.56" text-anchor="middle">29.85</text>
<rect x="111.55" y="543.74" width="496.71" height="304.71" fill="none" stroke="#000" stroke-width="2.15" stroke-linejoin="round"/>
<text transform="translate(359.90 937.70) scale(1 1.05)" fill="#000" stroke="#000" stroke-width="0.35" font-size="26.56" text-anchor="middle">Salinity</text>
<text transform="translate(36.00 696.00) rotate(-90) scale(1 1.05)" fill="#000" stroke="#000" stroke-width="0.35" font-size="26.56" text-anchor="middle">θ [ °C ]</text>
<text transform="translate(170.00 537.00) scale(1 1.05)" fill="#808080" stroke="#808080" stroke-width="0.35" font-size="19.90" text-anchor="middle">22.5</text>
<text transform="translate(312.00 537.00) scale(1 1.05)" fill="#808080" stroke="#808080" stroke-width="0.35" font-size="19.90" text-anchor="middle">22.55</text>
<text transform="translate(453.00 537.00) scale(1 1.05)" fill="#808080" stroke="#808080" stroke-width="0.35" font-size="19.90" text-anchor="middle">22.6</text>
<text transform="translate(596.00 537.00) scale(1 1.05)" fill="#808080" stroke="#808080" stroke-width="0.35" font-size="19.90" text-anchor="middle">22.65</text>
<text transform="translate(634.00 790.00) rotate(-90) scale(1 1.05)" fill="#808080" stroke="#808080" stroke-width="0.35" font-size="19.90" text-anchor="middle">22.7</text>
</g>
<g id="p4">
<polygon points="1022.9,544 1060,613.3 1094,635.7 1107.5,677.8 1150.5,689.4 1176.4,676.9 1197.9,619.6 1201.5,583.7 1202.8,558.7 1202.9,544" fill="#D3D3D3"/>
<circle cx="1031.9" cy="695.8" r="7" fill="#FF0000"/>
<rect x="783.55" y="543.74" width="496.71" height="304.71" fill="none" stroke="#000" stroke-width="2.15" stroke-linejoin="round"/>
<line x1="862.10" y1="848.45" x2="862.10" y2="864.39" stroke="#000" stroke-width="2.15" stroke-linecap="round"/>
<text transform="translate(862.10 896.26) scale(1 1.05)" fill="#000" stroke="#000" stroke-width="0.35" font-size="26.56" text-anchor="middle">-84</text>
<line x1="862.10" y1="543.74" x2="862.10" y2="527.80" stroke="#000" stroke-width="2.15" stroke-linecap="round"/>
<line x1="1035.60" y1="848.45" x2="1035.60" y2="864.39" stroke="#000" stroke-width="2.15" stroke-linecap="round"/>
<text transform="translate(1035.60 896.26) scale(1 1.05)" fill="#000" stroke="#000" stroke-width="0.35" font-size="26.56" text-anchor="middle">-82</text>
<line x1="1035.60" y1="543.74" x2="1035.60" y2="527.80" stroke="#000" stroke-width="2.15" stroke-linecap="round"/>
<line x1="1209.10" y1="848.45" x2="1209.10" y2="864.39" stroke="#000" stroke-width="2.15" stroke-linecap="round"/>
<text transform="translate(1209.10 896.26) scale(1 1.05)" fill="#000" stroke="#000" stroke-width="0.35" font-size="26.56" text-anchor="middle">-80</text>
<line x1="1209.10" y1="543.74" x2="1209.10" y2="527.80" stroke="#000" stroke-width="2.15" stroke-linecap="round"/>
<line x1="783.55" y1="793.50" x2="767.61" y2="793.50" stroke="#000" stroke-width="2.15" stroke-linecap="round"/>
<text transform="translate(754.87 793.50) rotate(-90) scale(1 1.05)" fill="#000" stroke="#000" stroke-width="0.35" font-size="26.56" text-anchor="middle">24</text>
<line x1="1280.26" y1="793.50" x2="1296.20" y2="793.50" stroke="#000" stroke-width="2.15" stroke-linecap="round"/>
<line x1="783.55" y1="697.50" x2="767.61" y2="697.50" stroke="#000" stroke-width="2.15" stroke-linecap="round"/>
<text transform="translate(754.87 697.50) rotate(-90) scale(1 1.05)" fill="#000" stroke="#000" stroke-width="0.35" font-size="26.56" text-anchor="middle">25</text>
<line x1="1280.26" y1="697.50" x2="1296.20" y2="697.50" stroke="#000" stroke-width="2.15" stroke-linecap="round"/>
<line x1="783.55" y1="601.50" x2="767.61" y2="601.50" stroke="#000" stroke-width="2.15" stroke-linecap="round"/>
<text transform="translate(754.87 601.50) rotate(-90) scale(1 1.05)" fill="#000" stroke="#000" stroke-width="0.35" font-size="26.56" text-anchor="middle">26</text>
<line x1="1280.26" y1="601.50" x2="1296.20" y2="601.50" stroke="#000" stroke-width="2.15" stroke-linecap="round"/>
<text transform="translate(784.00 521.20) scale(1 1.05)" fill="#000" stroke="#000" stroke-width="0.35" font-size="26.56" text-anchor="start">KW4</text>
<text transform="translate(1277.00 521.20) scale(1 1.05)" fill="#000" stroke="#000" stroke-width="0.35" font-size="26.56" text-anchor="end">2020-10-06 20:24:01</text>
</g>
</svg>
</body></html>
